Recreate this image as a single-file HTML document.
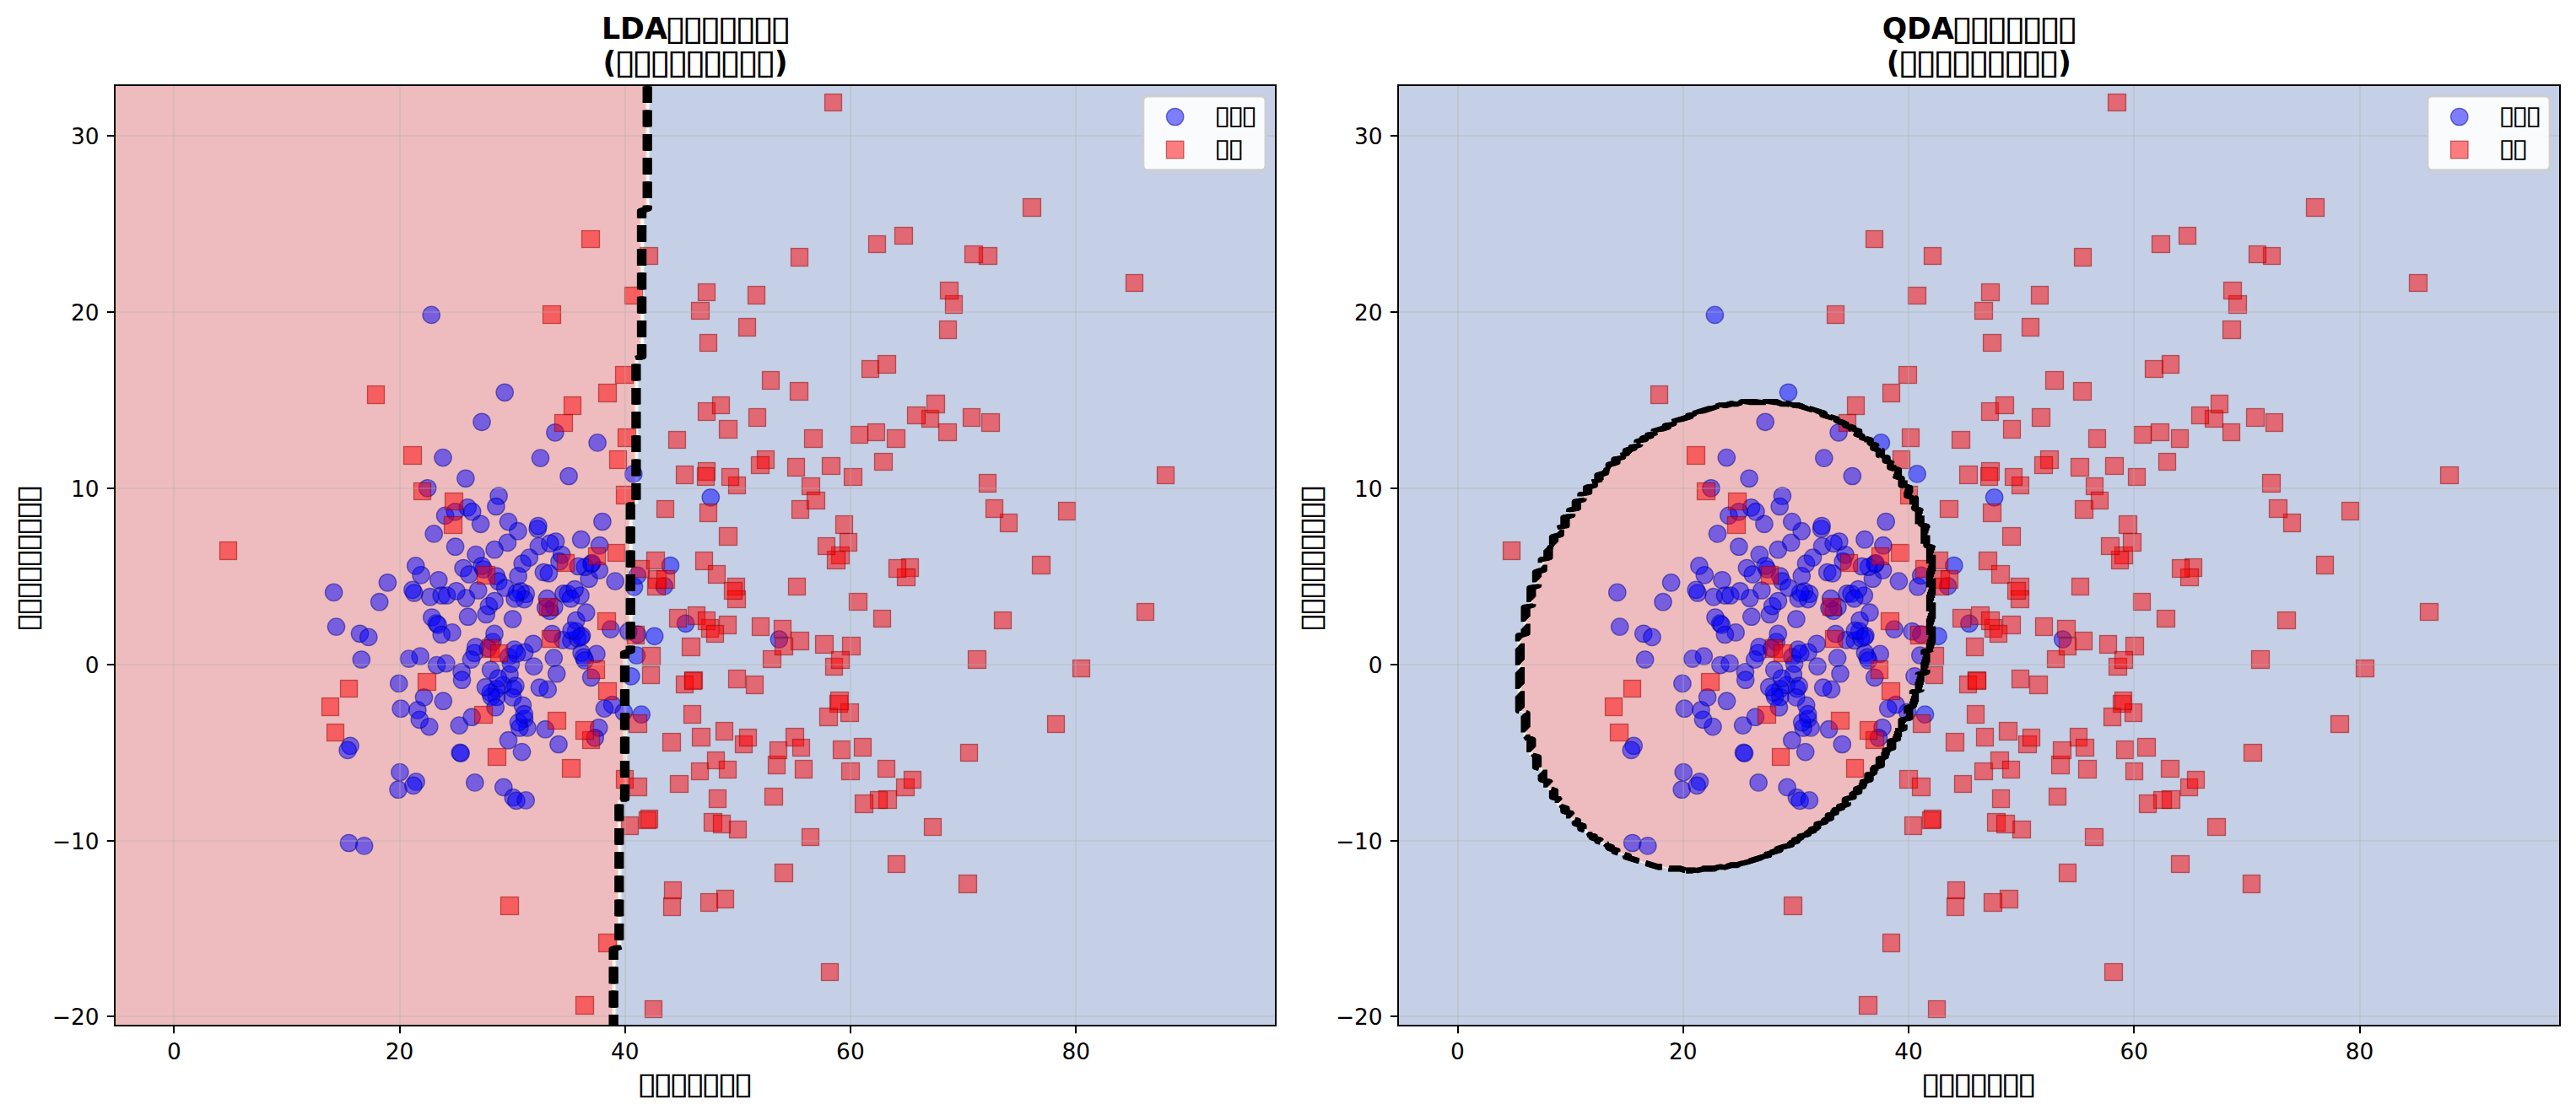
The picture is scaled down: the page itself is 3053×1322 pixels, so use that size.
<!DOCTYPE html>
<html lang="zh"><head><meta charset="utf-8"><title>LDA / QDA</title>
<style>html,body{margin:0;padding:0;background:#fff}svg{display:block}text{font-family:"DejaVu Sans","Liberation Sans",sans-serif;fill:#000}.b{font-weight:bold}</style></head><body>
<svg width="3053" height="1322" viewBox="0 0 3053 1322">
<rect width="3053" height="1322" fill="#fff"/>
<clipPath id="c0"><rect x="136.3" y="101.3" width="1376.1" height="1115.1"/></clipPath>
<g clip-path="url(#c0)">
<path d="M143 1217 725.2 1217 725.2 1125.1 731.8 1123 731.8 949.6 738.5 947.5 738.5 774.1 745.2 772 745.2 598.6 751.9 596.5 751.9 425.2 758.6 423.1 758.6 249.7 765.2 247.6 765.2 101.4 136.3 101.4 136.3 1217Z" fill="#c82227" fill-opacity=".3" fill-rule="evenodd"/>
<path d="M726.2 1215 726.2 1125.1 732.8 1123 732.8 949.6 739.5 947.5 739.5 774.1 746.2 772 746.2 598.6 752.9 596.5 752.9 425.2 759.6 423.1 759.6 249.7 766.2 247.6 766.2 101.4 765.2 101.4 765.2 247.6 758.6 249.7 758.6 423.1 751.9 425.2 751.9 596.5 745.2 598.6 745.2 772 738.5 774.1 738.5 947.5 731.8 949.6 731.8 1123 725.2 1125.1 725.2 1217 726.2 1217Z" fill="#f57547" fill-opacity=".3" fill-rule="evenodd"/>
<path d="M727.2 1215 727.2 1125.1 733.8 1123 733.8 949.6 740.5 947.5 740.5 774.1 747.2 772 747.2 598.6 753.9 596.5 753.9 425.2 760.6 423.1 760.6 249.7 767.2 247.6 767.2 101.4 766.2 101.4 766.2 247.6 759.6 249.7 759.6 423.1 752.9 425.2 752.9 596.5 746.2 598.6 746.2 772 739.5 774.1 739.5 947.5 732.8 949.6 732.8 1123 726.2 1125.1 726.2 1217 727.2 1217Z" fill="#feca7c" fill-opacity=".3" fill-rule="evenodd"/>
<path d="M728.2 1215 728.2 1125.1 734.8 1123 734.8 949.6 741.5 947.5 741.5 774.1 748.2 772 748.2 598.6 754.9 596.5 754.9 425.2 761.6 423.1 761.6 249.7 768.2 247.6 768.2 101.4 767.2 101.4 767.2 247.6 760.6 249.7 760.6 423.1 753.9 425.2 753.9 596.5 747.2 598.6 747.2 772 740.5 774.1 740.5 947.5 733.8 949.6 733.8 1123 727.2 1125.1 727.2 1217 728.2 1217Z" fill="#feffc0" fill-opacity=".3" fill-rule="evenodd"/>
<path d="M729.2 1215 729.2 1125.1 735.8 1123 735.8 949.6 742.5 947.5 742.5 774.1 749.2 772 749.2 598.6 755.9 596.5 755.9 425.2 762.6 423.1 762.6 249.7 769.2 247.6 769.2 101.4 768.2 101.4 768.2 247.6 761.6 249.7 761.6 423.1 754.9 425.2 754.9 596.5 748.2 598.6 748.2 772 741.5 774.1 741.5 947.5 734.8 949.6 734.8 1123 728.2 1125.1 728.2 1217 729.2 1217Z" fill="#c9e8f2" fill-opacity=".3" fill-rule="evenodd"/>
<path d="M730.2 1215 730.2 1125.1 736.8 1123 736.8 949.6 743.5 947.5 743.5 774.1 750.2 772 750.2 598.6 756.9 596.5 756.9 425.2 763.6 423.1 763.6 249.7 770.2 247.6 770.2 101.4 769.2 101.4 769.2 247.6 762.6 249.7 762.6 423.1 755.9 425.2 755.9 596.5 749.2 598.6 749.2 772 742.5 774.1 742.5 947.5 735.8 949.6 735.8 1123 729.2 1125.1 729.2 1217 730.2 1217Z" fill="#7ab2d4" fill-opacity=".3" fill-rule="evenodd"/>
<path d="M730.8 1217 1512.4 1217 1512.4 101.4 770.2 101.4 770.2 247.6 763.6 249.7 763.6 423.1 756.9 425.2 756.9 596.5 750.2 598.6 750.2 772 743.5 774.1 743.5 947.5 736.8 949.6 736.8 1123 730.2 1125.1 730.2 1217Z" fill="#3f62ab" fill-opacity=".3" fill-rule="evenodd"/>
<g fill="#00f" fill-opacity=".5" stroke="#00008b" stroke-opacity=".5" stroke-width="1.33"><circle cx="562.3" cy="774.3" r="10.2"/><circle cx="527.6" cy="611.4" r="10.2"/><circle cx="632" cy="763.3" r="10.2"/><circle cx="449.7" cy="713.7" r="10.2"/><circle cx="644.4" cy="678.5" r="10.2"/><circle cx="656.3" cy="780.1" r="10.2"/><circle cx="608.2" cy="945.6" r="10.2"/><circle cx="775.7" cy="754.3" r="10.2"/><circle cx="698.1" cy="686.2" r="10.2"/><circle cx="709.7" cy="862.8" r="10.2"/><circle cx="472.7" cy="810.4" r="10.2"/><circle cx="618.5" cy="891.6" r="10.2"/><circle cx="656.8" cy="719.8" r="10.2"/><circle cx="710.3" cy="676.1" r="10.2"/><circle cx="667" cy="758.8" r="10.2"/><circle cx="640.5" cy="543.1" r="10.2"/><circle cx="621.5" cy="852.4" r="10.2"/><circle cx="545.2" cy="892.4" r="10.2"/><circle cx="611.9" cy="949.4" r="10.2"/><circle cx="729.1" cy="689.1" r="10.2"/><circle cx="535.9" cy="749.9" r="10.2"/><circle cx="621.7" cy="773.4" r="10.2"/><circle cx="754.5" cy="777.1" r="10.2"/><circle cx="637.2" cy="627" r="10.2"/><circle cx="596.8" cy="933.4" r="10.2"/><circle cx="581.6" cy="794.2" r="10.2"/><circle cx="663" cy="665.7" r="10.2"/><circle cx="499" cy="681.8" r="10.2"/><circle cx="689.6" cy="753.8" r="10.2"/><circle cx="564" cy="657.6" r="10.2"/><circle cx="654.3" cy="751.5" r="10.2"/><circle cx="725.6" cy="835.5" r="10.2"/><circle cx="514.2" cy="632.9" r="10.2"/><circle cx="601.5" cy="643.4" r="10.2"/><circle cx="581.3" cy="821.4" r="10.2"/><circle cx="554.2" cy="601.8" r="10.2"/><circle cx="591.1" cy="588" r="10.2"/><circle cx="842.3" cy="589.8" r="10.2"/><circle cx="602.7" cy="778.9" r="10.2"/><circle cx="623.2" cy="948.9" r="10.2"/><circle cx="623.3" cy="704.2" r="10.2"/><circle cx="475.1" cy="840.2" r="10.2"/><circle cx="689.1" cy="774" r="10.2"/><circle cx="517.3" cy="739.1" r="10.2"/><circle cx="650.4" cy="679.8" r="10.2"/><circle cx="586.1" cy="651.7" r="10.2"/><circle cx="677" cy="759.5" r="10.2"/><circle cx="662" cy="882.5" r="10.2"/><circle cx="576.2" cy="728.5" r="10.2"/><circle cx="609.6" cy="770.1" r="10.2"/><circle cx="744.9" cy="748.7" r="10.2"/><circle cx="649.2" cy="817.4" r="10.2"/><circle cx="617.2" cy="701.2" r="10.2"/><circle cx="428.3" cy="782" r="10.2"/><circle cx="583.9" cy="761.1" r="10.2"/><circle cx="787.2" cy="694.9" r="10.2"/><circle cx="571" cy="500.3" r="10.2"/><circle cx="621.4" cy="710.6" r="10.2"/><circle cx="624.9" cy="862.9" r="10.2"/><circle cx="490.8" cy="703" r="10.2"/><circle cx="544.3" cy="860.1" r="10.2"/><circle cx="493.1" cy="926.9" r="10.2"/><circle cx="525" cy="542.6" r="10.2"/><circle cx="706.9" cy="775.4" r="10.2"/><circle cx="604" cy="799.8" r="10.2"/><circle cx="751.5" cy="695.7" r="10.2"/><circle cx="700.8" cy="668.8" r="10.2"/><circle cx="674.1" cy="564.5" r="10.2"/><circle cx="684.5" cy="756.7" r="10.2"/><circle cx="546.2" cy="893.1" r="10.2"/><circle cx="569.6" cy="621.3" r="10.2"/><circle cx="755.4" cy="682.4" r="10.2"/><circle cx="573.1" cy="675" r="10.2"/><circle cx="739.3" cy="844.3" r="10.2"/><circle cx="554.6" cy="731.2" r="10.2"/><circle cx="579.4" cy="718.6" r="10.2"/><circle cx="668" cy="703.8" r="10.2"/><circle cx="588.5" cy="826.5" r="10.2"/><circle cx="426.5" cy="751.3" r="10.2"/><circle cx="710.6" cy="646.7" r="10.2"/><circle cx="688.7" cy="639.7" r="10.2"/><circle cx="508.8" cy="861.6" r="10.2"/><circle cx="511.8" cy="732" r="10.2"/><circle cx="506.7" cy="578.8" r="10.2"/><circle cx="639.5" cy="815.2" r="10.2"/><circle cx="700.6" cy="803.3" r="10.2"/><circle cx="610.1" cy="709.9" r="10.2"/><circle cx="571" cy="671" r="10.2"/><circle cx="587.9" cy="600.5" r="10.2"/><circle cx="598.2" cy="465.3" r="10.2"/><circle cx="559.2" cy="850.2" r="10.2"/><circle cx="701.5" cy="667.6" r="10.2"/><circle cx="619.2" cy="668.2" r="10.2"/><circle cx="563.7" cy="767" r="10.2"/><circle cx="705.2" cy="874.8" r="10.2"/><circle cx="638.4" cy="647.6" r="10.2"/><circle cx="602.5" cy="877.7" r="10.2"/><circle cx="586.1" cy="712.5" r="10.2"/><circle cx="688" cy="706" r="10.2"/><circle cx="615.8" cy="863" r="10.2"/><circle cx="566.7" cy="700" r="10.2"/><circle cx="492.7" cy="670.9" r="10.2"/><circle cx="747.8" cy="801.8" r="10.2"/><circle cx="552.5" cy="709.2" r="10.2"/><circle cx="511.2" cy="373.4" r="10.2"/><circle cx="539.6" cy="648.2" r="10.2"/><circle cx="509.7" cy="707.7" r="10.2"/><circle cx="627.3" cy="661.1" r="10.2"/><circle cx="682.5" cy="748.4" r="10.2"/><circle cx="651.6" cy="724.4" r="10.2"/><circle cx="413.5" cy="999.5" r="10.2"/><circle cx="562.8" cy="927.9" r="10.2"/><circle cx="637.9" cy="623.5" r="10.2"/><circle cx="614.5" cy="856.6" r="10.2"/><circle cx="665.7" cy="657.8" r="10.2"/><circle cx="672.9" cy="704" r="10.2"/><circle cx="610.9" cy="813.2" r="10.2"/><circle cx="398.5" cy="743.1" r="10.2"/><circle cx="794.5" cy="670.5" r="10.2"/><circle cx="658.6" cy="642" r="10.2"/><circle cx="682.8" cy="735.5" r="10.2"/><circle cx="549.1" cy="673.5" r="10.2"/><circle cx="723.7" cy="746.1" r="10.2"/><circle cx="659.7" cy="798.7" r="10.2"/><circle cx="436.8" cy="755.4" r="10.2"/><circle cx="713.9" cy="618.5" r="10.2"/><circle cx="395.6" cy="702.4" r="10.2"/><circle cx="755.4" cy="752.2" r="10.2"/><circle cx="497.3" cy="853.3" r="10.2"/><circle cx="556" cy="681" r="10.2"/><circle cx="694.7" cy="726.2" r="10.2"/><circle cx="923.4" cy="758" r="10.2"/><circle cx="646.3" cy="864.7" r="10.2"/><circle cx="472" cy="936.2" r="10.2"/><circle cx="646.7" cy="720.8" r="10.2"/><circle cx="489.9" cy="931.4" r="10.2"/><circle cx="498.1" cy="778.1" r="10.2"/><circle cx="693.3" cy="672.2" r="10.2"/><circle cx="595.9" cy="812.3" r="10.2"/><circle cx="605.4" cy="787.1" r="10.2"/><circle cx="588.3" cy="683" r="10.2"/><circle cx="473.9" cy="915.6" r="10.2"/><circle cx="431.6" cy="1002.9" r="10.2"/><circle cx="614.1" cy="682.9" r="10.2"/><circle cx="588.5" cy="816.9" r="10.2"/><circle cx="632.7" cy="790.1" r="10.2"/><circle cx="651.8" cy="644.3" r="10.2"/><circle cx="582.3" cy="826.1" r="10.2"/><circle cx="519.1" cy="740.8" r="10.2"/><circle cx="523.2" cy="706" r="10.2"/><circle cx="691.7" cy="779.3" r="10.2"/><circle cx="529.6" cy="706" r="10.2"/><circle cx="607.6" cy="734" r="10.2"/><circle cx="494.8" cy="841.9" r="10.2"/><circle cx="558.4" cy="782.1" r="10.2"/><circle cx="613.9" cy="629.7" r="10.2"/><circle cx="519.8" cy="687.8" r="10.2"/><circle cx="484.6" cy="781.1" r="10.2"/><circle cx="547.1" cy="796.8" r="10.2"/><circle cx="578.4" cy="768.6" r="10.2"/><circle cx="590.7" cy="689.2" r="10.2"/><circle cx="657.9" cy="512.8" r="10.2"/><circle cx="716.4" cy="840.1" r="10.2"/><circle cx="488.9" cy="699.4" r="10.2"/><circle cx="540.9" cy="700.8" r="10.2"/><circle cx="619.4" cy="836.3" r="10.2"/><circle cx="608.4" cy="816.6" r="10.2"/><circle cx="517.6" cy="788.6" r="10.2"/><circle cx="688.4" cy="755.4" r="10.2"/><circle cx="575.5" cy="814.7" r="10.2"/><circle cx="681.1" cy="698.7" r="10.2"/><circle cx="590.5" cy="804.3" r="10.2"/><circle cx="648.4" cy="709.7" r="10.2"/><circle cx="760.2" cy="847.1" r="10.2"/><circle cx="677.1" cy="747.6" r="10.2"/><circle cx="559.7" cy="606.7" r="10.2"/><circle cx="528.8" cy="786.6" r="10.2"/><circle cx="621.3" cy="846.7" r="10.2"/><circle cx="612.5" cy="774.9" r="10.2"/><circle cx="587.2" cy="838.7" r="10.2"/><circle cx="539.5" cy="606.8" r="10.2"/><circle cx="612.4" cy="702.9" r="10.2"/><circle cx="547.5" cy="806.2" r="10.2"/><circle cx="586" cy="751.4" r="10.2"/><circle cx="607.6" cy="826.9" r="10.2"/><circle cx="598.7" cy="697" r="10.2"/><circle cx="459.4" cy="690.8" r="10.2"/><circle cx="415" cy="884.3" r="10.2"/><circle cx="523.2" cy="752.5" r="10.2"/><circle cx="412.1" cy="889.4" r="10.2"/><circle cx="693.2" cy="783" r="10.2"/><circle cx="812.6" cy="739.3" r="10.2"/><circle cx="676.4" cy="709.8" r="10.2"/><circle cx="551.9" cy="567.3" r="10.2"/><circle cx="525.3" cy="831.2" r="10.2"/><circle cx="685.2" cy="671.5" r="10.2"/><circle cx="708.1" cy="524.9" r="10.2"/><circle cx="502.5" cy="826.8" r="10.2"/><circle cx="750.8" cy="561.9" r="10.2"/><circle cx="602.5" cy="618.6" r="10.2"/></g>
<g fill="#f00" fill-opacity=".5" stroke="#8b0000" stroke-opacity=".5" stroke-width="1.33"><rect x="1178.5" y="725.5" width="20" height="20"/><rect x="862.5" y="685.5" width="20" height="20"/><rect x="933.5" y="543.5" width="20" height="21"/><rect x="1068.5" y="662.5" width="20" height="21"/><rect x="829.5" y="597.5" width="20" height="21"/><rect x="759.5" y="960.5" width="20" height="21"/><rect x="1120.5" y="350.5" width="20" height="21"/><rect x="820.5" y="863.5" width="21" height="21"/><rect x="571.5" y="758.5" width="20" height="21"/><rect x="642.5" y="747.5" width="20" height="20"/><rect x="435.5" y="457.5" width="20" height="21"/><rect x="887.5" y="484.5" width="20" height="21"/><rect x="709.5" y="455.5" width="21" height="21"/><rect x="1028.5" y="502.5" width="20" height="20"/><rect x="709.5" y="1107.5" width="21" height="21"/><rect x="1136.5" y="1037.5" width="21" height="21"/><rect x="897.5" y="534.5" width="20" height="21"/><rect x="581.5" y="764.5" width="20" height="20"/><rect x="593.5" y="1063.5" width="21" height="21"/><rect x="1185.5" y="609.5" width="20" height="21"/><rect x="793.5" y="722.5" width="20" height="21"/><rect x="1254.5" y="595.5" width="20" height="21"/><rect x="1092.5" y="486.5" width="20" height="20"/><rect x="819.5" y="904.5" width="20" height="20"/><rect x="987.5" y="878.5" width="20" height="21"/><rect x="852.5" y="498.5" width="21" height="21"/><rect x="1036.5" y="537.5" width="21" height="20"/><rect x="983.5" y="824.5" width="21" height="20"/><rect x="910.5" y="896.5" width="20" height="21"/><rect x="997.5" y="904.5" width="21" height="20"/><rect x="495.5" y="798.5" width="21" height="20"/><rect x="990.5" y="611.5" width="20" height="21"/><rect x="891.5" y="732.5" width="20" height="21"/><rect x="730.5" y="576.5" width="21" height="21"/><rect x="978.5" y="780.5" width="20" height="20"/><rect x="973.5" y="1142.5" width="20" height="20"/><rect x="1114.5" y="334.5" width="21" height="20"/><rect x="562.5" y="837.5" width="21" height="20"/><rect x="748.5" y="664.5" width="21" height="20"/><rect x="260.5" y="642.5" width="20" height="21"/><rect x="912.5" y="879.5" width="20" height="20"/><rect x="1160.5" y="562.5" width="20" height="21"/><rect x="1041.5" y="937.5" width="21" height="21"/><rect x="1012.5" y="875.5" width="20" height="21"/><rect x="526.5" y="612.5" width="21" height="20"/><rect x="829.5" y="396.5" width="20" height="20"/><rect x="871.5" y="872.5" width="20" height="20"/><rect x="565.5" y="671.5" width="21" height="21"/><rect x="1063.5" y="674.5" width="21" height="20"/><rect x="1062.5" y="923.5" width="21" height="20"/><rect x="643.5" y="362.5" width="21" height="21"/><rect x="1112.5" y="502.5" width="21" height="20"/><rect x="998.5" y="755.5" width="21" height="21"/><rect x="996.5" y="834.5" width="21" height="21"/><rect x="876.5" y="864.5" width="20" height="20"/><rect x="815.5" y="719.5" width="20" height="21"/><rect x="931.5" y="863.5" width="21" height="21"/><rect x="953.5" y="509.5" width="21" height="21"/><rect x="794.5" y="919.5" width="21" height="20"/><rect x="827.5" y="548.5" width="20" height="21"/><rect x="1163.5" y="490.5" width="21" height="21"/><rect x="974.5" y="542.5" width="21" height="20"/><rect x="1052.5" y="1014.5" width="20" height="20"/><rect x="1168.5" y="592.5" width="20" height="21"/><rect x="838.5" y="891.5" width="20" height="20"/><rect x="786.5" y="1064.5" width="20" height="21"/><rect x="906.5" y="934.5" width="21" height="20"/><rect x="985.5" y="648.5" width="21" height="20"/><rect x="1035.5" y="723.5" width="20" height="20"/><rect x="690.5" y="867.5" width="20" height="20"/><rect x="736.5" y="968.5" width="20" height="21"/><rect x="729.5" y="434.5" width="21" height="20"/><rect x="1347.5" y="715.5" width="20" height="20"/><rect x="761.5" y="767.5" width="21" height="21"/><rect x="810.5" y="836.5" width="20" height="21"/><rect x="852.5" y="730.5" width="20" height="21"/><rect x="639.5" y="709.5" width="21" height="20"/><rect x="811.5" y="796.5" width="21" height="20"/><rect x="966.5" y="753.5" width="21" height="21"/><rect x="801.5" y="801.5" width="20" height="20"/><rect x="758.5" y="293.5" width="21" height="20"/><rect x="709.5" y="809.5" width="21" height="20"/><rect x="649.5" y="844.5" width="21" height="20"/><rect x="1271.5" y="782.5" width="20" height="20"/><rect x="1223.5" y="659.5" width="21" height="21"/><rect x="819.5" y="358.5" width="21" height="20"/><rect x="808.5" y="756.5" width="21" height="21"/><rect x="764.5" y="1186.5" width="20" height="20"/><rect x="801.5" y="552.5" width="20" height="21"/><rect x="1113.5" y="380.5" width="20" height="21"/><rect x="811.5" y="797.5" width="20" height="20"/><rect x="689.5" y="273.5" width="21" height="20"/><rect x="824.5" y="654.5" width="20" height="21"/><rect x="971.5" y="839.5" width="21" height="21"/><rect x="730.5" y="913.5" width="20" height="21"/><rect x="863.5" y="794.5" width="20" height="21"/><rect x="766.5" y="654.5" width="21" height="20"/><rect x="682.5" y="855.5" width="21" height="21"/><rect x="939.5" y="876.5" width="20" height="20"/><rect x="938.5" y="593.5" width="20" height="21"/><rect x="745.5" y="922.5" width="21" height="21"/><rect x="668.5" y="470.5" width="20" height="21"/><rect x="740.5" y="340.5" width="21" height="20"/><rect x="1040.5" y="901.5" width="20" height="20"/><rect x="1160.5" y="293.5" width="21" height="20"/><rect x="743.5" y="742.5" width="20" height="21"/><rect x="840.5" y="936.5" width="20" height="21"/><rect x="403.5" y="806.5" width="20" height="20"/><rect x="826.5" y="554.5" width="20" height="21"/><rect x="768.5" y="676.5" width="21" height="21"/><rect x="1000.5" y="555.5" width="21" height="20"/><rect x="478.5" y="529.5" width="21" height="21"/><rect x="578.5" y="887.5" width="21" height="20"/><rect x="1053.5" y="663.5" width="20" height="21"/><rect x="827.5" y="477.5" width="20" height="21"/><rect x="1143.5" y="291.5" width="21" height="20"/><rect x="904.5" y="771.5" width="21" height="20"/><rect x="1095.5" y="970.5" width="20" height="20"/><rect x="708.5" y="726.5" width="21" height="20"/><rect x="1138.5" y="882.5" width="20" height="20"/><rect x="886.5" y="339.5" width="20" height="21"/><rect x="950.5" y="982.5" width="20" height="20"/><rect x="917.5" y="735.5" width="20" height="20"/><rect x="1371.5" y="553.5" width="20" height="20"/><rect x="890.5" y="541.5" width="21" height="20"/><rect x="490.5" y="572.5" width="20" height="20"/><rect x="942.5" y="901.5" width="20" height="21"/><rect x="381.5" y="827.5" width="20" height="21"/><rect x="862.5" y="700.5" width="21" height="20"/><rect x="831.5" y="734.5" width="20" height="21"/><rect x="985.5" y="772.5" width="21" height="20"/><rect x="884.5" y="801.5" width="20" height="21"/><rect x="995.5" y="632.5" width="20" height="21"/><rect x="875.5" y="377.5" width="20" height="21"/><rect x="1334.5" y="325.5" width="20" height="20"/><rect x="682.5" y="1181.5" width="21" height="21"/><rect x="937.5" y="749.5" width="21" height="21"/><rect x="1147.5" y="771.5" width="21" height="21"/><rect x="1029.5" y="279.5" width="20" height="20"/><rect x="657.5" y="491.5" width="21" height="20"/><rect x="757.5" y="962.5" width="20" height="20"/><rect x="950.5" y="566.5" width="21" height="20"/><rect x="1075.5" y="482.5" width="21" height="20"/><rect x="918.5" y="756.5" width="21" height="20"/><rect x="720.5" y="645.5" width="20" height="20"/><rect x="903.5" y="440.5" width="20" height="21"/><rect x="1051.5" y="509.5" width="21" height="21"/><rect x="761.5" y="790.5" width="20" height="20"/><rect x="834.5" y="964.5" width="21" height="21"/><rect x="696.5" y="783.5" width="20" height="21"/><rect x="936.5" y="453.5" width="21" height="21"/><rect x="1031.5" y="938.5" width="20" height="20"/><rect x="1141.5" y="484.5" width="20" height="21"/><rect x="1060.5" y="269.5" width="21" height="20"/><rect x="1212.5" y="235.5" width="21" height="21"/><rect x="827.5" y="725.5" width="20" height="21"/><rect x="956.5" y="583.5" width="21" height="20"/><rect x="844.5" y="470.5" width="20" height="20"/><rect x="839.5" y="670.5" width="20" height="21"/><rect x="934.5" y="685.5" width="20" height="20"/><rect x="849.5" y="1055.5" width="20" height="21"/><rect x="1098.5" y="468.5" width="21" height="21"/><rect x="837.5" y="741.5" width="20" height="20"/><rect x="852.5" y="625.5" width="21" height="21"/><rect x="984.5" y="820.5" width="21" height="21"/><rect x="852.5" y="902.5" width="20" height="20"/><rect x="830.5" y="1059.5" width="20" height="21"/><rect x="660.5" y="657.5" width="20" height="20"/><rect x="792.5" y="511.5" width="20" height="20"/><rect x="527.5" y="584.5" width="21" height="20"/><rect x="1241.5" y="848.5" width="20" height="20"/><rect x="980.5" y="653.5" width="21" height="21"/><rect x="785.5" y="869.5" width="21" height="21"/><rect x="848.5" y="856.5" width="20" height="21"/><rect x="1013.5" y="942.5" width="21" height="21"/><rect x="1071.5" y="914.5" width="20" height="20"/><rect x="1021.5" y="427.5" width="20" height="20"/><rect x="977.5" y="111.5" width="20" height="20"/><rect x="767.5" y="685.5" width="21" height="20"/><rect x="1008.5" y="505.5" width="20" height="20"/><rect x="969.5" y="637.5" width="20" height="20"/><rect x="387.5" y="858.5" width="20" height="20"/><rect x="666.5" y="900.5" width="21" height="21"/><rect x="827.5" y="336.5" width="20" height="20"/><rect x="937.5" y="294.5" width="20" height="21"/><rect x="745.5" y="847.5" width="21" height="21"/><rect x="722.5" y="534.5" width="20" height="21"/><rect x="787.5" y="1045.5" width="20" height="20"/><rect x="1006.5" y="703.5" width="21" height="20"/><rect x="863.5" y="565.5" width="20" height="20"/><rect x="864.5" y="973.5" width="20" height="20"/><rect x="778.5" y="593.5" width="20" height="20"/><rect x="732.5" y="508.5" width="21" height="21"/><rect x="697.5" y="649.5" width="20" height="20"/><rect x="918.5" y="1024.5" width="21" height="21"/><rect x="778.5" y="676.5" width="21" height="21"/><rect x="845.5" y="966.5" width="20" height="21"/><rect x="1040.5" y="421.5" width="21" height="21"/><rect x="855.5" y="555.5" width="20" height="20"/><rect x="858.5" y="690.5" width="21" height="20"/></g>
<g stroke="#b0b0b0" stroke-opacity=".3" stroke-width="2.0"><path d="M206 101.3V1216.4"/><path d="M474 101.3V1216.4"/><path d="M741 101.3V1216.4"/><path d="M1008 101.3V1216.4"/><path d="M1275 101.3V1216.4"/><path d="M136.3 1205H1512.4"/><path d="M136.3 997H1512.4"/><path d="M136.3 788H1512.4"/><path d="M136.3 579H1512.4"/><path d="M136.3 370H1512.4"/><path d="M136.3 161H1512.4"/></g>
<g fill="none" stroke="#000" stroke-width="5.3" stroke-dasharray="19.72 8.53" stroke-linejoin="round" stroke-dashoffset="-1"><path d="M764.2 101.4 764.2 247.6 757.5 249.7 757.5 423.1 750.9 425.2 750.9 596.5 744.2 598.6 744.2 772 737.5 774.1 737.5 947.5 730.8 949.6 730.8 1123 724.1 1125.1 724.1 1217"/><path d="M765.2 101.4 765.2 247.6 758.6 249.7 758.6 423.1 751.9 425.2 751.9 596.5 745.2 598.6 745.2 772 738.5 774.1 738.5 947.5 731.8 949.6 731.8 1123 725.2 1125.1 725.2 1217"/><path d="M766.2 101.4 766.2 247.6 759.6 249.7 759.6 423.1 752.9 425.2 752.9 596.5 746.2 598.6 746.2 772 739.5 774.1 739.5 947.5 732.8 949.6 732.8 1123 726.2 1125.1 726.2 1217"/><path d="M767.2 101.4 767.2 247.6 760.6 249.7 760.6 423.1 753.9 425.2 753.9 596.5 747.2 598.6 747.2 772 740.5 774.1 740.5 947.5 733.8 949.6 733.8 1123 727.2 1125.1 727.2 1217"/><path d="M768.2 101.4 768.2 247.6 761.6 249.7 761.6 423.1 754.9 425.2 754.9 596.5 748.2 598.6 748.2 772 741.5 774.1 741.5 947.5 734.8 949.6 734.8 1123 728.2 1125.1 728.2 1217"/><path d="M769.2 101.4 769.2 247.6 762.6 249.7 762.6 423.1 755.9 425.2 755.9 596.5 749.2 598.6 749.2 772 742.5 774.1 742.5 947.5 735.8 949.6 735.8 1123 729.2 1125.1 729.2 1217"/><path d="M770.2 101.4 770.2 247.6 763.6 249.7 763.6 423.1 756.9 425.2 756.9 596.5 750.2 598.6 750.2 772 743.5 774.1 743.5 947.5 736.8 949.6 736.8 1123 730.2 1125.1 730.2 1217"/></g>
</g>
<rect x="136" y="101" width="1376" height="1115" fill="none" stroke="#000" stroke-width="2"/>
<g stroke="#000" stroke-width="2.0"><path d="M206 1216v9.2"/><path d="M474 1216v9.2"/><path d="M741 1216v9.2"/><path d="M1008 1216v9.2"/><path d="M1275 1216v9.2"/><path d="M136 1205h-9.2"/><path d="M136 997h-9.2"/><path d="M136 788h-9.2"/><path d="M136 579h-9.2"/><path d="M136 370h-9.2"/><path d="M136 161h-9.2"/></g>
<g font-size="26.39" text-anchor="middle"><text x="206.3" y="1255.6">0</text><text x="473.5" y="1255.6">20</text><text x="740.7" y="1255.6">40</text><text x="1007.9" y="1255.6">60</text><text x="1275.2" y="1255.6">80</text></g>
<g font-size="26.39" text-anchor="end"><text x="117.5" y="1215.4">−20</text><text x="117.5" y="1006.5">−10</text><text x="117.5" y="797.7">0</text><text x="117.5" y="588.9">10</text><text x="117.5" y="380.1">20</text><text x="117.5" y="171.3">30</text></g>
<text class="b" font-size="34.7" x="712.99" y="45.8">LDA</text><text class="b" transform="translate(787.42 47.04) scale(1.3563 1.1547)" font-size="34.7" x="0.00 15.35 30.70 46.05 61.40 76.75 92.10" y="0">▯▯▯▯▯▯▯</text><text class="b" font-size="34.7" x="714.40" y="85.6">(</text><text class="b" transform="translate(727.71 86.84) scale(1.3563 1.1547)" font-size="34.7" x="0.00 15.35 30.70 46.05 61.40 76.75 92.10 107.45 122.81" y="0">▯▯▯▯▯▯▯▯▯</text><text class="b" font-size="34.7" x="917.64" y="85.6">)</text>
<text transform="translate(755.05 1297.23) scale(1.3563 1.1547)" font-size="31.7" x="0.00 14.02 28.05 42.07 56.09 70.12 84.14" y="0">▯▯▯▯▯▯▯</text>
<g transform="translate(44.10 747.44) rotate(-90)"><text transform="translate(-2.33 1.13) scale(1.3563 1.1547)" font-size="31.7" x="0.00 14.02 28.05 42.07 56.09 70.12 84.14 98.16 112.19" y="0">▯▯▯▯▯▯▯▯▯</text></g>
<rect x="1355.00" y="114.09" width="144.81" height="87.5" rx="5.3" fill="#fff" fill-opacity=".9" stroke="#ccc" stroke-opacity=".9" stroke-width="2.64"/><circle cx="1392.65" cy="138.50" r="10.2" fill="#00f" fill-opacity=".5" stroke="#00008b" stroke-opacity=".5" stroke-width="1.33"/><rect x="1382.40" y="167.25" width="20.5" height="20.5" fill="#f00" fill-opacity=".5" stroke="#8b0000" stroke-opacity=".5" stroke-width="1.33"/><text transform="translate(1438.81 147.14) scale(1.3563 1.1547)" font-size="26.39" x="0.00 11.67 23.35" y="0">▯▯▯</text><text transform="translate(1438.81 186.14) scale(1.3563 1.1547)" font-size="26.39" x="0.00 11.67" y="0">▯▯</text>
<clipPath id="c1"><rect x="1657.45" y="101.3" width="1376.5" height="1115.1"/></clipPath>
<g clip-path="url(#c1)">
<path d="M1998.2 1031.4 2011.6 1031.4 2018.3 1029.3 2031.6 1029.3 2038.3 1027.2 2045 1027.2 2051.7 1025.2 2058.4 1025.2 2092.8 1014.4 2092.8 1012.3 2106.1 1008.1 2106.1 1006 2119.5 1001.9 2119.5 999.8 2126.2 997.7 2126.2 995.6 2132.9 993.5 2132.9 991.4 2139.5 989.3 2139.5 987.2 2146.2 985.1 2146.2 983.1 2152.9 981 2152.9 976.8 2159.6 974.7 2159.6 972.6 2166.3 970.5 2166.3 966.3 2173 964.3 2173 960.1 2179.6 958 2179.6 955.9 2186.3 953.8 2186.3 947.5 2193 945.4 2193 941.3 2199.7 939.2 2199.7 935 2206.4 932.9 2206.4 926.6 2213 924.6 2213 918.3 2219.7 916.2 2219.7 909.9 2226.4 907.8 2226.4 899.5 2233.1 897.4 2233.1 889 2239.8 887 2239.8 878.6 2246.5 876.5 2246.5 866.1 2253.1 864 2253.1 853.5 2259.8 851.4 2259.8 838.9 2266.5 836.8 2266.5 820.1 2273.2 818 2273.2 799.2 2279.9 797.1 2279.9 772 2286.5 770 2286.5 648.8 2279.9 646.7 2279.9 623.7 2273.2 621.6 2273.2 604.9 2266.5 602.8 2266.5 590.3 2259.8 588.2 2259.8 577.7 2253.1 575.7 2253.1 567.3 2246.5 565.2 2246.5 556.9 2239.8 554.8 2239.8 548.5 2233.1 546.4 2233.1 542.2 2226.4 540.1 2226.4 533.9 2219.7 531.8 2219.7 527.6 2213 525.5 2213 521.3 2206.4 519.2 2206.4 517.2 2199.7 515.1 2199.7 510.9 2193 508.8 2193 506.7 2186.3 504.6 2186.3 502.5 2173 498.4 2173 496.3 2159.6 492.1 2159.6 490 2131.9 481.3 2125.2 481.3 2118.5 479.2 2111.8 479.2 2105.1 477.1 2065 477.1 2058.4 479.2 2051.7 479.2 2045 481.3 2038.3 481.3 2003.9 492.1 2003.9 494.2 1983.9 500.4 1983.9 502.5 1977.2 504.6 1977.2 506.7 1963.8 510.9 1963.8 513 1957.1 515.1 1957.1 517.2 1950.4 519.2 1950.4 521.3 1943.8 523.4 1943.8 527.6 1937.1 529.7 1937.1 531.8 1930.4 533.9 1930.4 538 1923.7 540.1 1923.7 542.2 1917 544.3 1917 548.5 1910.4 550.6 1910.4 554.8 1903.7 556.9 1903.7 561 1897 563.1 1897 569.4 1890.3 571.5 1890.3 575.7 1883.6 577.7 1883.6 584 1876.9 586.1 1876.9 592.4 1870.3 594.5 1870.3 602.8 1863.6 604.9 1863.6 611.2 1856.9 613.3 1856.9 623.7 1850.2 625.8 1850.2 634.2 1843.5 636.2 1843.5 646.7 1836.9 648.8 1836.9 661.3 1830.2 663.4 1830.2 675.9 1823.5 678 1823.5 694.7 1816.8 696.8 1816.8 717.7 1810.1 719.8 1810.1 751.2 1803.4 753.2 1803.4 843.1 1810.1 845.2 1810.1 874.4 1816.8 876.5 1816.8 895.3 1823.5 897.4 1823.5 909.9 1830.2 912 1830.2 924.6 1836.9 926.6 1836.9 935 1843.5 937.1 1843.5 945.4 1850.2 947.5 1850.2 955.9 1856.9 958 1856.9 962.2 1863.6 964.3 1863.6 970.5 1870.3 972.6 1870.3 976.8 1876.9 978.9 1876.9 983.1 1883.6 985.1 1883.6 989.3 1890.3 991.4 1890.3 993.5 1897 995.6 1897 997.7 1903.7 999.8 1903.7 1001.9 1910.4 1003.9 1910.4 1006 1917 1008.1 1917 1010.2 1930.4 1014.4 1930.4 1016.5 1964.8 1027.2 1971.5 1027.2 1978.2 1029.3 1991.5 1029.3 1997.2 1031.1Z" fill="#c82227" fill-opacity=".3" fill-rule="evenodd"/>
<path d="M1998.2 1031.7 2011.6 1031.7 2018.3 1029.6 2031.6 1029.6 2038.3 1027.6 2045 1027.6 2051.7 1025.5 2058.4 1025.5 2093.8 1014.4 2093.8 1012.3 2107.1 1008.1 2107.1 1006 2120.5 1001.9 2120.5 999.8 2127.2 997.7 2127.2 995.6 2133.9 993.5 2133.9 991.4 2140.5 989.3 2140.5 987.2 2147.2 985.1 2147.2 983.1 2153.9 981 2153.9 976.8 2160.6 974.7 2160.6 972.6 2167.3 970.5 2167.3 966.3 2174 964.3 2174 960.1 2180.6 958 2180.6 955.9 2187.3 953.8 2187.3 947.5 2194 945.4 2194 941.3 2200.7 939.2 2200.7 935 2207.4 932.9 2207.4 926.6 2214 924.6 2214 918.3 2220.7 916.2 2220.7 909.9 2227.4 907.8 2227.4 899.5 2234.1 897.4 2234.1 889 2240.8 887 2240.8 878.6 2247.5 876.5 2247.5 866.1 2254.1 864 2254.1 853.5 2260.8 851.4 2260.8 838.9 2267.5 836.8 2267.5 820.1 2274.2 818 2274.2 799.2 2280.9 797.1 2280.9 772 2287.5 770 2287.5 648.8 2280.9 646.7 2280.9 623.7 2274.2 621.6 2274.2 604.9 2267.5 602.8 2267.5 590.3 2260.8 588.2 2260.8 577.7 2254.1 575.7 2254.1 567.3 2247.5 565.2 2247.5 556.9 2240.8 554.8 2240.8 548.5 2234.1 546.4 2234.1 542.2 2227.4 540.1 2227.4 533.9 2220.7 531.8 2220.7 527.6 2214 525.5 2214 521.3 2207.4 519.2 2207.4 517.2 2200.7 515.1 2200.7 510.9 2194 508.8 2194 506.7 2187.3 504.6 2187.3 502.5 2174 498.4 2174 496.3 2160.6 492.1 2160.6 490 2131.9 481 2125.2 481 2118.5 478.9 2111.8 478.9 2105.1 476.8 2065 476.8 2058.4 478.9 2051.7 478.9 2045 481 2038.3 481 2002.9 492.1 2002.9 494.2 1982.9 500.4 1982.9 502.5 1976.2 504.6 1976.2 506.7 1962.8 510.9 1962.8 513 1956.1 515.1 1956.1 517.2 1949.4 519.2 1949.4 521.3 1942.8 523.4 1942.8 527.6 1936.1 529.7 1936.1 531.8 1929.4 533.9 1929.4 538 1922.7 540.1 1922.7 542.2 1916 544.3 1916 548.5 1909.4 550.6 1909.4 554.8 1902.7 556.9 1902.7 561 1896 563.1 1896 569.4 1889.3 571.5 1889.3 575.7 1882.6 577.7 1882.6 584 1875.9 586.1 1875.9 592.4 1869.3 594.5 1869.3 602.8 1862.6 604.9 1862.6 611.2 1855.9 613.3 1855.9 623.7 1849.2 625.8 1849.2 634.2 1842.5 636.2 1842.5 646.7 1835.9 648.8 1835.9 661.3 1829.2 663.4 1829.2 675.9 1822.5 678 1822.5 694.7 1815.8 696.8 1815.8 717.7 1809.1 719.8 1809.1 751.2 1802.4 753.2 1802.4 843.1 1809.1 845.2 1809.1 874.4 1815.8 876.5 1815.8 895.3 1822.5 897.4 1822.5 909.9 1829.2 912 1829.2 924.6 1835.9 926.6 1835.9 935 1842.5 937.1 1842.5 945.4 1849.2 947.5 1849.2 955.9 1855.9 958 1855.9 962.2 1862.6 964.3 1862.6 970.5 1869.3 972.6 1869.3 976.8 1875.9 978.9 1875.9 983.1 1882.6 985.1 1882.6 989.3 1889.3 991.4 1889.3 993.5 1896 995.6 1896 997.7 1902.7 999.8 1902.7 1001.9 1909.4 1003.9 1909.4 1006 1916 1008.1 1916 1010.2 1929.4 1014.4 1929.4 1016.5 1964.8 1027.6 1971.5 1027.6 1978.2 1029.6 1991.5 1029.6 1996.2 1031.1ZM1997.2 1031.1 1991.5 1029.3 1978.2 1029.3 1971.5 1027.2 1964.8 1027.2 1930.4 1016.5 1930.4 1014.4 1917 1010.2 1917 1008.1 1910.4 1006 1910.4 1003.9 1903.7 1001.9 1903.7 999.8 1897 997.7 1897 995.6 1890.3 993.5 1890.3 991.4 1883.6 989.3 1883.6 985.1 1876.9 983.1 1876.9 978.9 1870.3 976.8 1870.3 972.6 1863.6 970.5 1863.6 964.3 1856.9 962.2 1856.9 958 1850.2 955.9 1850.2 947.5 1843.5 945.4 1843.5 937.1 1836.9 935 1836.9 926.6 1830.2 924.6 1830.2 912 1823.5 909.9 1823.5 897.4 1816.8 895.3 1816.8 876.5 1810.1 874.4 1810.1 845.2 1803.4 843.1 1803.4 753.2 1810.1 751.2 1810.1 719.8 1816.8 717.7 1816.8 696.8 1823.5 694.7 1823.5 678 1830.2 675.9 1830.2 663.4 1836.9 661.3 1836.9 648.8 1843.5 646.7 1843.5 636.2 1850.2 634.2 1850.2 625.8 1856.9 623.7 1856.9 613.3 1863.6 611.2 1863.6 604.9 1870.3 602.8 1870.3 594.5 1876.9 592.4 1876.9 586.1 1883.6 584 1883.6 577.7 1890.3 575.7 1890.3 571.5 1897 569.4 1897 563.1 1903.7 561 1903.7 556.9 1910.4 554.8 1910.4 550.6 1917 548.5 1917 544.3 1923.7 542.2 1923.7 540.1 1930.4 538 1930.4 533.9 1937.1 531.8 1937.1 529.7 1943.8 527.6 1943.8 523.4 1950.4 521.3 1950.4 519.2 1957.1 517.2 1957.1 515.1 1963.8 513 1963.8 510.9 1977.2 506.7 1977.2 504.6 1983.9 502.5 1983.9 500.4 2003.9 494.2 2003.9 492.1 2038.3 481.3 2045 481.3 2051.7 479.2 2058.4 479.2 2065 477.1 2105.1 477.1 2111.8 479.2 2118.5 479.2 2125.2 481.3 2131.9 481.3 2159.6 490 2159.6 492.1 2173 496.3 2173 498.4 2186.3 502.5 2186.3 504.6 2193 506.7 2193 508.8 2199.7 510.9 2199.7 515.1 2206.4 517.2 2206.4 519.2 2213 521.3 2213 525.5 2219.7 527.6 2219.7 531.8 2226.4 533.9 2226.4 540.1 2233.1 542.2 2233.1 546.4 2239.8 548.5 2239.8 554.8 2246.5 556.9 2246.5 565.2 2253.1 567.3 2253.1 575.7 2259.8 577.7 2259.8 588.2 2266.5 590.3 2266.5 602.8 2273.2 604.9 2273.2 621.6 2279.9 623.7 2279.9 646.7 2286.5 648.8 2286.5 770 2279.9 772 2279.9 797.1 2273.2 799.2 2273.2 818 2266.5 820.1 2266.5 836.8 2259.8 838.9 2259.8 851.4 2253.1 853.5 2253.1 864 2246.5 866.1 2246.5 876.5 2239.8 878.6 2239.8 887 2233.1 889 2233.1 897.4 2226.4 899.5 2226.4 907.8 2219.7 909.9 2219.7 916.2 2213 918.3 2213 924.6 2206.4 926.6 2206.4 932.9 2199.7 935 2199.7 939.2 2193 941.3 2193 945.4 2186.3 947.5 2186.3 953.8 2179.6 955.9 2179.6 958 2173 960.1 2173 964.3 2166.3 966.3 2166.3 970.5 2159.6 972.6 2159.6 974.7 2152.9 976.8 2152.9 981 2146.2 983.1 2146.2 985.1 2139.5 987.2 2139.5 989.3 2132.9 991.4 2132.9 993.5 2126.2 995.6 2126.2 997.7 2119.5 999.8 2119.5 1001.9 2106.1 1006 2106.1 1008.1 2092.8 1012.3 2092.8 1014.4 2058.4 1025.2 2051.7 1025.2 2045 1027.2 2038.3 1027.2 2031.6 1029.3 2018.3 1029.3 2011.6 1031.4 1998.2 1031.4Z" fill="#f57547" fill-opacity=".3" fill-rule="evenodd"/>
<path d="M1998.2 1032 2011.6 1032 2018.3 1030 2031.6 1030 2038.3 1027.9 2045 1027.9 2051.7 1025.8 2058.4 1025.8 2094.8 1014.4 2094.8 1012.3 2108.1 1008.1 2108.1 1006 2121.5 1001.9 2121.5 999.8 2128.2 997.7 2128.2 995.6 2134.9 993.5 2134.9 991.4 2141.5 989.3 2141.5 987.2 2148.2 985.1 2148.2 983.1 2154.9 981 2154.9 976.8 2161.6 974.7 2161.6 972.6 2168.3 970.5 2168.3 966.3 2175 964.3 2175 960.1 2181.6 958 2181.6 955.9 2188.3 953.8 2188.3 947.5 2195 945.4 2195 941.3 2201.7 939.2 2201.7 935 2208.4 932.9 2208.4 926.6 2215 924.6 2215 918.3 2221.7 916.2 2221.7 909.9 2228.4 907.8 2228.4 899.5 2235.1 897.4 2235.1 889 2241.8 887 2241.8 878.6 2248.5 876.5 2248.5 866.1 2255.1 864 2255.1 853.5 2261.8 851.4 2261.8 838.9 2268.5 836.8 2268.5 820.1 2275.2 818 2275.2 799.2 2281.9 797.1 2281.9 772 2288.5 770 2288.5 648.8 2281.9 646.7 2281.9 623.7 2275.2 621.6 2275.2 604.9 2268.5 602.8 2268.5 590.3 2261.8 588.2 2261.8 577.7 2255.1 575.7 2255.1 567.3 2248.5 565.2 2248.5 556.9 2241.8 554.8 2241.8 548.5 2235.1 546.4 2235.1 542.2 2228.4 540.1 2228.4 533.9 2221.7 531.8 2221.7 527.6 2215 525.5 2215 521.3 2208.4 519.2 2208.4 517.2 2201.7 515.1 2201.7 510.9 2195 508.8 2195 506.7 2188.3 504.6 2188.3 502.5 2175 498.4 2175 496.3 2161.6 492.1 2161.6 490 2131.9 480.7 2125.2 480.7 2118.5 478.6 2111.8 478.6 2105.1 476.5 2065 476.5 2058.4 478.6 2051.7 478.6 2045 480.7 2038.3 480.7 2001.9 492.1 2001.9 494.2 1981.9 500.4 1981.9 502.5 1975.2 504.6 1975.2 506.7 1961.8 510.9 1961.8 513 1955.1 515.1 1955.1 517.2 1948.4 519.2 1948.4 521.3 1941.8 523.4 1941.8 527.6 1935.1 529.7 1935.1 531.8 1928.4 533.9 1928.4 538 1921.7 540.1 1921.7 542.2 1915 544.3 1915 548.5 1908.4 550.6 1908.4 554.8 1901.7 556.9 1901.7 561 1895 563.1 1895 569.4 1888.3 571.5 1888.3 575.7 1881.6 577.7 1881.6 584 1874.9 586.1 1874.9 592.4 1868.3 594.5 1868.3 602.8 1861.6 604.9 1861.6 611.2 1854.9 613.3 1854.9 623.7 1848.2 625.8 1848.2 634.2 1841.5 636.2 1841.5 646.7 1834.9 648.8 1834.9 661.3 1828.2 663.4 1828.2 675.9 1821.5 678 1821.5 694.7 1814.8 696.8 1814.8 717.7 1808.1 719.8 1808.1 751.2 1801.4 753.2 1801.4 843.1 1808.1 845.2 1808.1 874.4 1814.8 876.5 1814.8 895.3 1821.5 897.4 1821.5 909.9 1828.2 912 1828.2 924.6 1834.9 926.6 1834.9 935 1841.5 937.1 1841.5 945.4 1848.2 947.5 1848.2 955.9 1854.9 958 1854.9 962.2 1861.6 964.3 1861.6 970.5 1868.3 972.6 1868.3 976.8 1874.9 978.9 1874.9 983.1 1881.6 985.1 1881.6 989.3 1888.3 991.4 1888.3 993.5 1895 995.6 1895 997.7 1901.7 999.8 1901.7 1001.9 1908.4 1003.9 1908.4 1006 1915 1008.1 1915 1010.2 1928.4 1014.4 1928.4 1016.5 1964.8 1027.9 1971.5 1027.9 1978.2 1030 1991.5 1030 1995.2 1031.1ZM1996.2 1031.1 1991.5 1029.6 1978.2 1029.6 1971.5 1027.6 1964.8 1027.6 1929.4 1016.5 1929.4 1014.4 1916 1010.2 1916 1008.1 1909.4 1006 1909.4 1003.9 1902.7 1001.9 1902.7 999.8 1896 997.7 1896 995.6 1889.3 993.5 1889.3 991.4 1882.6 989.3 1882.6 985.1 1875.9 983.1 1875.9 978.9 1869.3 976.8 1869.3 972.6 1862.6 970.5 1862.6 964.3 1855.9 962.2 1855.9 958 1849.2 955.9 1849.2 947.5 1842.5 945.4 1842.5 937.1 1835.9 935 1835.9 926.6 1829.2 924.6 1829.2 912 1822.5 909.9 1822.5 897.4 1815.8 895.3 1815.8 876.5 1809.1 874.4 1809.1 845.2 1802.4 843.1 1802.4 753.2 1809.1 751.2 1809.1 719.8 1815.8 717.7 1815.8 696.8 1822.5 694.7 1822.5 678 1829.2 675.9 1829.2 663.4 1835.9 661.3 1835.9 648.8 1842.5 646.7 1842.5 636.2 1849.2 634.2 1849.2 625.8 1855.9 623.7 1855.9 613.3 1862.6 611.2 1862.6 604.9 1869.3 602.8 1869.3 594.5 1875.9 592.4 1875.9 586.1 1882.6 584 1882.6 577.7 1889.3 575.7 1889.3 571.5 1896 569.4 1896 563.1 1902.7 561 1902.7 556.9 1909.4 554.8 1909.4 550.6 1916 548.5 1916 544.3 1922.7 542.2 1922.7 540.1 1929.4 538 1929.4 533.9 1936.1 531.8 1936.1 529.7 1942.8 527.6 1942.8 523.4 1949.4 521.3 1949.4 519.2 1956.1 517.2 1956.1 515.1 1962.8 513 1962.8 510.9 1976.2 506.7 1976.2 504.6 1982.9 502.5 1982.9 500.4 2002.9 494.2 2002.9 492.1 2038.3 481 2045 481 2051.7 478.9 2058.4 478.9 2065 476.8 2105.1 476.8 2111.8 478.9 2118.5 478.9 2125.2 481 2131.9 481 2160.6 490 2160.6 492.1 2174 496.3 2174 498.4 2187.3 502.5 2187.3 504.6 2194 506.7 2194 508.8 2200.7 510.9 2200.7 515.1 2207.4 517.2 2207.4 519.2 2214 521.3 2214 525.5 2220.7 527.6 2220.7 531.8 2227.4 533.9 2227.4 540.1 2234.1 542.2 2234.1 546.4 2240.8 548.5 2240.8 554.8 2247.5 556.9 2247.5 565.2 2254.1 567.3 2254.1 575.7 2260.8 577.7 2260.8 588.2 2267.5 590.3 2267.5 602.8 2274.2 604.9 2274.2 621.6 2280.9 623.7 2280.9 646.7 2287.5 648.8 2287.5 770 2280.9 772 2280.9 797.1 2274.2 799.2 2274.2 818 2267.5 820.1 2267.5 836.8 2260.8 838.9 2260.8 851.4 2254.1 853.5 2254.1 864 2247.5 866.1 2247.5 876.5 2240.8 878.6 2240.8 887 2234.1 889 2234.1 897.4 2227.4 899.5 2227.4 907.8 2220.7 909.9 2220.7 916.2 2214 918.3 2214 924.6 2207.4 926.6 2207.4 932.9 2200.7 935 2200.7 939.2 2194 941.3 2194 945.4 2187.3 947.5 2187.3 953.8 2180.6 955.9 2180.6 958 2174 960.1 2174 964.3 2167.3 966.3 2167.3 970.5 2160.6 972.6 2160.6 974.7 2153.9 976.8 2153.9 981 2147.2 983.1 2147.2 985.1 2140.5 987.2 2140.5 989.3 2133.9 991.4 2133.9 993.5 2127.2 995.6 2127.2 997.7 2120.5 999.8 2120.5 1001.9 2107.1 1006 2107.1 1008.1 2093.8 1012.3 2093.8 1014.4 2058.4 1025.5 2051.7 1025.5 2045 1027.6 2038.3 1027.6 2031.6 1029.6 2018.3 1029.6 2011.6 1031.7 1998.2 1031.7Z" fill="#feca7c" fill-opacity=".3" fill-rule="evenodd"/>
<path d="M1998.2 1032.4 2011.6 1032.4 2018.3 1030.3 2031.6 1030.3 2038.3 1028.2 2045 1028.2 2051.7 1026.1 2058.4 1026.1 2095.8 1014.4 2095.8 1012.3 2109.1 1008.1 2109.1 1006 2122.5 1001.9 2122.5 999.8 2129.2 997.7 2129.2 995.6 2135.9 993.5 2135.9 991.4 2142.5 989.3 2142.5 987.2 2149.2 985.1 2149.2 983.1 2155.9 981 2155.9 976.8 2162.6 974.7 2162.6 972.6 2169.3 970.5 2169.3 966.3 2176 964.3 2176 960.1 2182.6 958 2182.6 955.9 2189.3 953.8 2189.3 947.5 2196 945.4 2196 941.3 2202.7 939.2 2202.7 935 2209.4 932.9 2209.4 926.6 2216 924.6 2216 918.3 2222.7 916.2 2222.7 909.9 2229.4 907.8 2229.4 899.5 2236.1 897.4 2236.1 889 2242.8 887 2242.8 878.6 2249.5 876.5 2249.5 866.1 2256.1 864 2256.1 853.5 2262.8 851.4 2262.8 838.9 2269.5 836.8 2269.5 820.1 2276.2 818 2276.2 799.2 2282.9 797.1 2282.9 772 2289.5 770 2289.5 648.8 2282.9 646.7 2282.9 623.7 2276.2 621.6 2276.2 604.9 2269.5 602.8 2269.5 590.3 2262.8 588.2 2262.8 577.7 2256.1 575.7 2256.1 567.3 2249.5 565.2 2249.5 556.9 2242.8 554.8 2242.8 548.5 2236.1 546.4 2236.1 542.2 2229.4 540.1 2229.4 533.9 2222.7 531.8 2222.7 527.6 2216 525.5 2216 521.3 2209.4 519.2 2209.4 517.2 2202.7 515.1 2202.7 510.9 2196 508.8 2196 506.7 2189.3 504.6 2189.3 502.5 2176 498.4 2176 496.3 2162.6 492.1 2162.6 490 2131.9 480.4 2125.2 480.4 2118.5 478.3 2111.8 478.3 2105.1 476.2 2065 476.2 2058.4 478.3 2051.7 478.3 2045 480.4 2038.3 480.4 2000.9 492.1 2000.9 494.2 1980.8 500.4 1980.8 502.5 1974.2 504.6 1974.2 506.7 1960.8 510.9 1960.8 513 1954.1 515.1 1954.1 517.2 1947.4 519.2 1947.4 521.3 1940.8 523.4 1940.8 527.6 1934.1 529.7 1934.1 531.8 1927.4 533.9 1927.4 538 1920.7 540.1 1920.7 542.2 1914 544.3 1914 548.5 1907.3 550.6 1907.3 554.8 1900.7 556.9 1900.7 561 1894 563.1 1894 569.4 1887.3 571.5 1887.3 575.7 1880.6 577.7 1880.6 584 1873.9 586.1 1873.9 592.4 1867.3 594.5 1867.3 602.8 1860.6 604.9 1860.6 611.2 1853.9 613.3 1853.9 623.7 1847.2 625.8 1847.2 634.2 1840.5 636.2 1840.5 646.7 1833.8 648.8 1833.8 661.3 1827.2 663.4 1827.2 675.9 1820.5 678 1820.5 694.7 1813.8 696.8 1813.8 717.7 1807.1 719.8 1807.1 751.2 1800.4 753.2 1800.4 843.1 1807.1 845.2 1807.1 874.4 1813.8 876.5 1813.8 895.3 1820.5 897.4 1820.5 909.9 1827.2 912 1827.2 924.6 1833.8 926.6 1833.8 935 1840.5 937.1 1840.5 945.4 1847.2 947.5 1847.2 955.9 1853.9 958 1853.9 962.2 1860.6 964.3 1860.6 970.5 1867.3 972.6 1867.3 976.8 1873.9 978.9 1873.9 983.1 1880.6 985.1 1880.6 989.3 1887.3 991.4 1887.3 993.5 1894 995.6 1894 997.7 1900.7 999.8 1900.7 1001.9 1907.3 1003.9 1907.3 1006 1914 1008.1 1914 1010.2 1927.4 1014.4 1927.4 1016.5 1964.8 1028.2 1971.5 1028.2 1978.2 1030.3 1991.5 1030.3 1994.2 1031.1ZM1995.2 1031.1 1991.5 1030 1978.2 1030 1971.5 1027.9 1964.8 1027.9 1928.4 1016.5 1928.4 1014.4 1915 1010.2 1915 1008.1 1908.4 1006 1908.4 1003.9 1901.7 1001.9 1901.7 999.8 1895 997.7 1895 995.6 1888.3 993.5 1888.3 991.4 1881.6 989.3 1881.6 985.1 1874.9 983.1 1874.9 978.9 1868.3 976.8 1868.3 972.6 1861.6 970.5 1861.6 964.3 1854.9 962.2 1854.9 958 1848.2 955.9 1848.2 947.5 1841.5 945.4 1841.5 937.1 1834.9 935 1834.9 926.6 1828.2 924.6 1828.2 912 1821.5 909.9 1821.5 897.4 1814.8 895.3 1814.8 876.5 1808.1 874.4 1808.1 845.2 1801.4 843.1 1801.4 753.2 1808.1 751.2 1808.1 719.8 1814.8 717.7 1814.8 696.8 1821.5 694.7 1821.5 678 1828.2 675.9 1828.2 663.4 1834.9 661.3 1834.9 648.8 1841.5 646.7 1841.5 636.2 1848.2 634.2 1848.2 625.8 1854.9 623.7 1854.9 613.3 1861.6 611.2 1861.6 604.9 1868.3 602.8 1868.3 594.5 1874.9 592.4 1874.9 586.1 1881.6 584 1881.6 577.7 1888.3 575.7 1888.3 571.5 1895 569.4 1895 563.1 1901.7 561 1901.7 556.9 1908.4 554.8 1908.4 550.6 1915 548.5 1915 544.3 1921.7 542.2 1921.7 540.1 1928.4 538 1928.4 533.9 1935.1 531.8 1935.1 529.7 1941.8 527.6 1941.8 523.4 1948.4 521.3 1948.4 519.2 1955.1 517.2 1955.1 515.1 1961.8 513 1961.8 510.9 1975.2 506.7 1975.2 504.6 1981.9 502.5 1981.9 500.4 2001.9 494.2 2001.9 492.1 2038.3 480.7 2045 480.7 2051.7 478.6 2058.4 478.6 2065 476.5 2105.1 476.5 2111.8 478.6 2118.5 478.6 2125.2 480.7 2131.9 480.7 2161.6 490 2161.6 492.1 2175 496.3 2175 498.4 2188.3 502.5 2188.3 504.6 2195 506.7 2195 508.8 2201.7 510.9 2201.7 515.1 2208.4 517.2 2208.4 519.2 2215 521.3 2215 525.5 2221.7 527.6 2221.7 531.8 2228.4 533.9 2228.4 540.1 2235.1 542.2 2235.1 546.4 2241.8 548.5 2241.8 554.8 2248.5 556.9 2248.5 565.2 2255.1 567.3 2255.1 575.7 2261.8 577.7 2261.8 588.2 2268.5 590.3 2268.5 602.8 2275.2 604.9 2275.2 621.6 2281.9 623.7 2281.9 646.7 2288.5 648.8 2288.5 770 2281.9 772 2281.9 797.1 2275.2 799.2 2275.2 818 2268.5 820.1 2268.5 836.8 2261.8 838.9 2261.8 851.4 2255.1 853.5 2255.1 864 2248.5 866.1 2248.5 876.5 2241.8 878.6 2241.8 887 2235.1 889 2235.1 897.4 2228.4 899.5 2228.4 907.8 2221.7 909.9 2221.7 916.2 2215 918.3 2215 924.6 2208.4 926.6 2208.4 932.9 2201.7 935 2201.7 939.2 2195 941.3 2195 945.4 2188.3 947.5 2188.3 953.8 2181.6 955.9 2181.6 958 2175 960.1 2175 964.3 2168.3 966.3 2168.3 970.5 2161.6 972.6 2161.6 974.7 2154.9 976.8 2154.9 981 2148.2 983.1 2148.2 985.1 2141.5 987.2 2141.5 989.3 2134.9 991.4 2134.9 993.5 2128.2 995.6 2128.2 997.7 2121.5 999.8 2121.5 1001.9 2108.1 1006 2108.1 1008.1 2094.8 1012.3 2094.8 1014.4 2058.4 1025.8 2051.7 1025.8 2045 1027.9 2038.3 1027.9 2031.6 1030 2018.3 1030 2011.6 1032 1998.2 1032Z" fill="#feffc0" fill-opacity=".3" fill-rule="evenodd"/>
<path d="M1998.2 1032.7 2011.6 1032.7 2018.3 1030.6 2031.6 1030.6 2038.3 1028.5 2045 1028.5 2051.7 1026.4 2058.4 1026.4 2096.8 1014.4 2096.8 1012.3 2110.1 1008.1 2110.1 1006 2123.5 1001.9 2123.5 999.8 2130.2 997.7 2130.2 995.6 2136.9 993.5 2136.9 991.4 2143.6 989.3 2143.6 987.2 2150.2 985.1 2150.2 983.1 2156.9 981 2156.9 976.8 2163.6 974.7 2163.6 972.6 2170.3 970.5 2170.3 966.3 2177 964.3 2177 960.1 2183.6 958 2183.6 955.9 2190.3 953.8 2190.3 947.5 2197 945.4 2197 941.3 2203.7 939.2 2203.7 935 2210.4 932.9 2210.4 926.6 2217.1 924.6 2217.1 918.3 2223.7 916.2 2223.7 909.9 2230.4 907.8 2230.4 899.5 2237.1 897.4 2237.1 889 2243.8 887 2243.8 878.6 2250.5 876.5 2250.5 866.1 2257.1 864 2257.1 853.5 2263.8 851.4 2263.8 838.9 2270.5 836.8 2270.5 820.1 2277.2 818 2277.2 799.2 2283.9 797.1 2283.9 772 2290.6 770 2290.6 648.8 2283.9 646.7 2283.9 623.7 2277.2 621.6 2277.2 604.9 2270.5 602.8 2270.5 590.3 2263.8 588.2 2263.8 577.7 2257.1 575.7 2257.1 567.3 2250.5 565.2 2250.5 556.9 2243.8 554.8 2243.8 548.5 2237.1 546.4 2237.1 542.2 2230.4 540.1 2230.4 533.9 2223.7 531.8 2223.7 527.6 2217.1 525.5 2217.1 521.3 2210.4 519.2 2210.4 517.2 2203.7 515.1 2203.7 510.9 2197 508.8 2197 506.7 2190.3 504.6 2190.3 502.5 2177 498.4 2177 496.3 2163.6 492.1 2163.6 490 2131.9 480.1 2125.2 480.1 2118.5 478 2111.8 478 2105.1 475.9 2065 475.9 2058.4 478 2051.7 478 2045 480.1 2038.3 480.1 1999.9 492.1 1999.9 494.2 1979.8 500.4 1979.8 502.5 1973.2 504.6 1973.2 506.7 1959.8 510.9 1959.8 513 1953.1 515.1 1953.1 517.2 1946.4 519.2 1946.4 521.3 1939.8 523.4 1939.8 527.6 1933.1 529.7 1933.1 531.8 1926.4 533.9 1926.4 538 1919.7 540.1 1919.7 542.2 1913 544.3 1913 548.5 1906.3 550.6 1906.3 554.8 1899.7 556.9 1899.7 561 1893 563.1 1893 569.4 1886.3 571.5 1886.3 575.7 1879.6 577.7 1879.6 584 1872.9 586.1 1872.9 592.4 1866.3 594.5 1866.3 602.8 1859.6 604.9 1859.6 611.2 1852.9 613.3 1852.9 623.7 1846.2 625.8 1846.2 634.2 1839.5 636.2 1839.5 646.7 1832.8 648.8 1832.8 661.3 1826.2 663.4 1826.2 675.9 1819.5 678 1819.5 694.7 1812.8 696.8 1812.8 717.7 1806.1 719.8 1806.1 751.2 1799.4 753.2 1799.4 843.1 1806.1 845.2 1806.1 874.4 1812.8 876.5 1812.8 895.3 1819.5 897.4 1819.5 909.9 1826.2 912 1826.2 924.6 1832.8 926.6 1832.8 935 1839.5 937.1 1839.5 945.4 1846.2 947.5 1846.2 955.9 1852.9 958 1852.9 962.2 1859.6 964.3 1859.6 970.5 1866.3 972.6 1866.3 976.8 1872.9 978.9 1872.9 983.1 1879.6 985.1 1879.6 989.3 1886.3 991.4 1886.3 993.5 1893 995.6 1893 997.7 1899.7 999.8 1899.7 1001.9 1906.3 1003.9 1906.3 1006 1913 1008.1 1913 1010.2 1926.4 1014.4 1926.4 1016.5 1964.8 1028.5 1971.5 1028.5 1978.2 1030.6 1991.5 1030.6 1993.2 1031.1ZM1994.2 1031.1 1991.5 1030.3 1978.2 1030.3 1971.5 1028.2 1964.8 1028.2 1927.4 1016.5 1927.4 1014.4 1914 1010.2 1914 1008.1 1907.3 1006 1907.3 1003.9 1900.7 1001.9 1900.7 999.8 1894 997.7 1894 995.6 1887.3 993.5 1887.3 991.4 1880.6 989.3 1880.6 985.1 1873.9 983.1 1873.9 978.9 1867.3 976.8 1867.3 972.6 1860.6 970.5 1860.6 964.3 1853.9 962.2 1853.9 958 1847.2 955.9 1847.2 947.5 1840.5 945.4 1840.5 937.1 1833.8 935 1833.8 926.6 1827.2 924.6 1827.2 912 1820.5 909.9 1820.5 897.4 1813.8 895.3 1813.8 876.5 1807.1 874.4 1807.1 845.2 1800.4 843.1 1800.4 753.2 1807.1 751.2 1807.1 719.8 1813.8 717.7 1813.8 696.8 1820.5 694.7 1820.5 678 1827.2 675.9 1827.2 663.4 1833.8 661.3 1833.8 648.8 1840.5 646.7 1840.5 636.2 1847.2 634.2 1847.2 625.8 1853.9 623.7 1853.9 613.3 1860.6 611.2 1860.6 604.9 1867.3 602.8 1867.3 594.5 1873.9 592.4 1873.9 586.1 1880.6 584 1880.6 577.7 1887.3 575.7 1887.3 571.5 1894 569.4 1894 563.1 1900.7 561 1900.7 556.9 1907.3 554.8 1907.3 550.6 1914 548.5 1914 544.3 1920.7 542.2 1920.7 540.1 1927.4 538 1927.4 533.9 1934.1 531.8 1934.1 529.7 1940.8 527.6 1940.8 523.4 1947.4 521.3 1947.4 519.2 1954.1 517.2 1954.1 515.1 1960.8 513 1960.8 510.9 1974.2 506.7 1974.2 504.6 1980.8 502.5 1980.8 500.4 2000.9 494.2 2000.9 492.1 2038.3 480.4 2045 480.4 2051.7 478.3 2058.4 478.3 2065 476.2 2105.1 476.2 2111.8 478.3 2118.5 478.3 2125.2 480.4 2131.9 480.4 2162.6 490 2162.6 492.1 2176 496.3 2176 498.4 2189.3 502.5 2189.3 504.6 2196 506.7 2196 508.8 2202.7 510.9 2202.7 515.1 2209.4 517.2 2209.4 519.2 2216 521.3 2216 525.5 2222.7 527.6 2222.7 531.8 2229.4 533.9 2229.4 540.1 2236.1 542.2 2236.1 546.4 2242.8 548.5 2242.8 554.8 2249.5 556.9 2249.5 565.2 2256.1 567.3 2256.1 575.7 2262.8 577.7 2262.8 588.2 2269.5 590.3 2269.5 602.8 2276.2 604.9 2276.2 621.6 2282.9 623.7 2282.9 646.7 2289.5 648.8 2289.5 770 2282.9 772 2282.9 797.1 2276.2 799.2 2276.2 818 2269.5 820.1 2269.5 836.8 2262.8 838.9 2262.8 851.4 2256.1 853.5 2256.1 864 2249.5 866.1 2249.5 876.5 2242.8 878.6 2242.8 887 2236.1 889 2236.1 897.4 2229.4 899.5 2229.4 907.8 2222.7 909.9 2222.7 916.2 2216 918.3 2216 924.6 2209.4 926.6 2209.4 932.9 2202.7 935 2202.7 939.2 2196 941.3 2196 945.4 2189.3 947.5 2189.3 953.8 2182.6 955.9 2182.6 958 2176 960.1 2176 964.3 2169.3 966.3 2169.3 970.5 2162.6 972.6 2162.6 974.7 2155.9 976.8 2155.9 981 2149.2 983.1 2149.2 985.1 2142.5 987.2 2142.5 989.3 2135.9 991.4 2135.9 993.5 2129.2 995.6 2129.2 997.7 2122.5 999.8 2122.5 1001.9 2109.1 1006 2109.1 1008.1 2095.8 1012.3 2095.8 1014.4 2058.4 1026.1 2051.7 1026.1 2045 1028.2 2038.3 1028.2 2031.6 1030.3 2018.3 1030.3 2011.6 1032.4 1998.2 1032.4Z" fill="#c9e8f2" fill-opacity=".3" fill-rule="evenodd"/>
<path d="M1998.2 1033 2011.6 1033 2018.3 1030.9 2031.6 1030.9 2038.3 1028.8 2045 1028.8 2051.7 1026.7 2058.4 1026.7 2097.8 1014.4 2097.8 1012.3 2111.1 1008.1 2111.1 1006 2124.5 1001.9 2124.5 999.8 2131.2 997.7 2131.2 995.6 2137.9 993.5 2137.9 991.4 2144.6 989.3 2144.6 987.2 2151.2 985.1 2151.2 983.1 2157.9 981 2157.9 976.8 2164.6 974.7 2164.6 972.6 2171.3 970.5 2171.3 966.3 2178 964.3 2178 960.1 2184.6 958 2184.6 955.9 2191.3 953.8 2191.3 947.5 2198 945.4 2198 941.3 2204.7 939.2 2204.7 935 2211.4 932.9 2211.4 926.6 2218.1 924.6 2218.1 918.3 2224.7 916.2 2224.7 909.9 2231.4 907.8 2231.4 899.5 2238.1 897.4 2238.1 889 2244.8 887 2244.8 878.6 2251.5 876.5 2251.5 866.1 2258.1 864 2258.1 853.5 2264.8 851.4 2264.8 838.9 2271.5 836.8 2271.5 820.1 2278.2 818 2278.2 799.2 2284.9 797.1 2284.9 772 2291.6 770 2291.6 648.8 2284.9 646.7 2284.9 623.7 2278.2 621.6 2278.2 604.9 2271.5 602.8 2271.5 590.3 2264.8 588.2 2264.8 577.7 2258.1 575.7 2258.1 567.3 2251.5 565.2 2251.5 556.9 2244.8 554.8 2244.8 548.5 2238.1 546.4 2238.1 542.2 2231.4 540.1 2231.4 533.9 2224.7 531.8 2224.7 527.6 2218.1 525.5 2218.1 521.3 2211.4 519.2 2211.4 517.2 2204.7 515.1 2204.7 510.9 2198 508.8 2198 506.7 2191.3 504.6 2191.3 502.5 2178 498.4 2178 496.3 2164.6 492.1 2164.6 490 2131.9 479.8 2125.2 479.8 2118.5 477.7 2111.8 477.7 2105.1 475.6 2065 475.6 2058.4 477.7 2051.7 477.7 2045 479.8 2038.3 479.8 1998.9 492.1 1998.9 494.2 1978.8 500.4 1978.8 502.5 1972.2 504.6 1972.2 506.7 1958.8 510.9 1958.8 513 1952.1 515.1 1952.1 517.2 1945.4 519.2 1945.4 521.3 1938.8 523.4 1938.8 527.6 1932.1 529.7 1932.1 531.8 1925.4 533.9 1925.4 538 1918.7 540.1 1918.7 542.2 1912 544.3 1912 548.5 1905.3 550.6 1905.3 554.8 1898.7 556.9 1898.7 561 1892 563.1 1892 569.4 1885.3 571.5 1885.3 575.7 1878.6 577.7 1878.6 584 1871.9 586.1 1871.9 592.4 1865.3 594.5 1865.3 602.8 1858.6 604.9 1858.6 611.2 1851.9 613.3 1851.9 623.7 1845.2 625.8 1845.2 634.2 1838.5 636.2 1838.5 646.7 1831.8 648.8 1831.8 661.3 1825.2 663.4 1825.2 675.9 1818.5 678 1818.5 694.7 1811.8 696.8 1811.8 717.7 1805.1 719.8 1805.1 751.2 1798.4 753.2 1798.4 843.1 1805.1 845.2 1805.1 874.4 1811.8 876.5 1811.8 895.3 1818.5 897.4 1818.5 909.9 1825.2 912 1825.2 924.6 1831.8 926.6 1831.8 935 1838.5 937.1 1838.5 945.4 1845.2 947.5 1845.2 955.9 1851.9 958 1851.9 962.2 1858.6 964.3 1858.6 970.5 1865.3 972.6 1865.3 976.8 1871.9 978.9 1871.9 983.1 1878.6 985.1 1878.6 989.3 1885.3 991.4 1885.3 993.5 1892 995.6 1892 997.7 1898.7 999.8 1898.7 1001.9 1905.3 1003.9 1905.3 1006 1912 1008.1 1912 1010.2 1925.4 1014.4 1925.4 1016.5 1964.8 1028.8 1971.5 1028.8 1978.2 1030.9 1991.5 1030.9 1992.2 1031.1ZM1993.2 1031.1 1991.5 1030.6 1978.2 1030.6 1971.5 1028.5 1964.8 1028.5 1926.4 1016.5 1926.4 1014.4 1913 1010.2 1913 1008.1 1906.3 1006 1906.3 1003.9 1899.7 1001.9 1899.7 999.8 1893 997.7 1893 995.6 1886.3 993.5 1886.3 991.4 1879.6 989.3 1879.6 985.1 1872.9 983.1 1872.9 978.9 1866.3 976.8 1866.3 972.6 1859.6 970.5 1859.6 964.3 1852.9 962.2 1852.9 958 1846.2 955.9 1846.2 947.5 1839.5 945.4 1839.5 937.1 1832.8 935 1832.8 926.6 1826.2 924.6 1826.2 912 1819.5 909.9 1819.5 897.4 1812.8 895.3 1812.8 876.5 1806.1 874.4 1806.1 845.2 1799.4 843.1 1799.4 753.2 1806.1 751.2 1806.1 719.8 1812.8 717.7 1812.8 696.8 1819.5 694.7 1819.5 678 1826.2 675.9 1826.2 663.4 1832.8 661.3 1832.8 648.8 1839.5 646.7 1839.5 636.2 1846.2 634.2 1846.2 625.8 1852.9 623.7 1852.9 613.3 1859.6 611.2 1859.6 604.9 1866.3 602.8 1866.3 594.5 1872.9 592.4 1872.9 586.1 1879.6 584 1879.6 577.7 1886.3 575.7 1886.3 571.5 1893 569.4 1893 563.1 1899.7 561 1899.7 556.9 1906.3 554.8 1906.3 550.6 1913 548.5 1913 544.3 1919.7 542.2 1919.7 540.1 1926.4 538 1926.4 533.9 1933.1 531.8 1933.1 529.7 1939.8 527.6 1939.8 523.4 1946.4 521.3 1946.4 519.2 1953.1 517.2 1953.1 515.1 1959.8 513 1959.8 510.9 1973.2 506.7 1973.2 504.6 1979.8 502.5 1979.8 500.4 1999.9 494.2 1999.9 492.1 2038.3 480.1 2045 480.1 2051.7 478 2058.4 478 2065 475.9 2105.1 475.9 2111.8 478 2118.5 478 2125.2 480.1 2131.9 480.1 2163.6 490 2163.6 492.1 2177 496.3 2177 498.4 2190.3 502.5 2190.3 504.6 2197 506.7 2197 508.8 2203.7 510.9 2203.7 515.1 2210.4 517.2 2210.4 519.2 2217.1 521.3 2217.1 525.5 2223.7 527.6 2223.7 531.8 2230.4 533.9 2230.4 540.1 2237.1 542.2 2237.1 546.4 2243.8 548.5 2243.8 554.8 2250.5 556.9 2250.5 565.2 2257.1 567.3 2257.1 575.7 2263.8 577.7 2263.8 588.2 2270.5 590.3 2270.5 602.8 2277.2 604.9 2277.2 621.6 2283.9 623.7 2283.9 646.7 2290.6 648.8 2290.6 770 2283.9 772 2283.9 797.1 2277.2 799.2 2277.2 818 2270.5 820.1 2270.5 836.8 2263.8 838.9 2263.8 851.4 2257.1 853.5 2257.1 864 2250.5 866.1 2250.5 876.5 2243.8 878.6 2243.8 887 2237.1 889 2237.1 897.4 2230.4 899.5 2230.4 907.8 2223.7 909.9 2223.7 916.2 2217.1 918.3 2217.1 924.6 2210.4 926.6 2210.4 932.9 2203.7 935 2203.7 939.2 2197 941.3 2197 945.4 2190.3 947.5 2190.3 953.8 2183.6 955.9 2183.6 958 2177 960.1 2177 964.3 2170.3 966.3 2170.3 970.5 2163.6 972.6 2163.6 974.7 2156.9 976.8 2156.9 981 2150.2 983.1 2150.2 985.1 2143.6 987.2 2143.6 989.3 2136.9 991.4 2136.9 993.5 2130.2 995.6 2130.2 997.7 2123.5 999.8 2123.5 1001.9 2110.1 1006 2110.1 1008.1 2096.8 1012.3 2096.8 1014.4 2058.4 1026.4 2051.7 1026.4 2045 1028.5 2038.3 1028.5 2031.6 1030.6 2018.3 1030.6 2011.6 1032.7 1998.2 1032.7Z" fill="#7ab2d4" fill-opacity=".3" fill-rule="evenodd"/>
<path d="M1664.1 1217 3033.9 1217 3033.9 101.4 1657.5 101.4 1657.5 1217ZM1992.2 1031.1 1991.5 1030.9 1978.2 1030.9 1971.5 1028.8 1964.8 1028.8 1925.4 1016.5 1925.4 1014.4 1912 1010.2 1912 1008.1 1905.3 1006 1905.3 1003.9 1898.7 1001.9 1898.7 999.8 1892 997.7 1892 995.6 1885.3 993.5 1885.3 991.4 1878.6 989.3 1878.6 985.1 1871.9 983.1 1871.9 978.9 1865.3 976.8 1865.3 972.6 1858.6 970.5 1858.6 964.3 1851.9 962.2 1851.9 958 1845.2 955.9 1845.2 947.5 1838.5 945.4 1838.5 937.1 1831.8 935 1831.8 926.6 1825.2 924.6 1825.2 912 1818.5 909.9 1818.5 897.4 1811.8 895.3 1811.8 876.5 1805.1 874.4 1805.1 845.2 1798.4 843.1 1798.4 753.2 1805.1 751.2 1805.1 719.8 1811.8 717.7 1811.8 696.8 1818.5 694.7 1818.5 678 1825.2 675.9 1825.2 663.4 1831.8 661.3 1831.8 648.8 1838.5 646.7 1838.5 636.2 1845.2 634.2 1845.2 625.8 1851.9 623.7 1851.9 613.3 1858.6 611.2 1858.6 604.9 1865.3 602.8 1865.3 594.5 1871.9 592.4 1871.9 586.1 1878.6 584 1878.6 577.7 1885.3 575.7 1885.3 571.5 1892 569.4 1892 563.1 1898.7 561 1898.7 556.9 1905.3 554.8 1905.3 550.6 1912 548.5 1912 544.3 1918.7 542.2 1918.7 540.1 1925.4 538 1925.4 533.9 1932.1 531.8 1932.1 529.7 1938.8 527.6 1938.8 523.4 1945.4 521.3 1945.4 519.2 1952.1 517.2 1952.1 515.1 1958.8 513 1958.8 510.9 1972.2 506.7 1972.2 504.6 1978.8 502.5 1978.8 500.4 1998.9 494.2 1998.9 492.1 2038.3 479.8 2045 479.8 2051.7 477.7 2058.4 477.7 2065 475.6 2105.1 475.6 2111.8 477.7 2118.5 477.7 2125.2 479.8 2131.9 479.8 2164.6 490 2164.6 492.1 2178 496.3 2178 498.4 2191.3 502.5 2191.3 504.6 2198 506.7 2198 508.8 2204.7 510.9 2204.7 515.1 2211.4 517.2 2211.4 519.2 2218.1 521.3 2218.1 525.5 2224.7 527.6 2224.7 531.8 2231.4 533.9 2231.4 540.1 2238.1 542.2 2238.1 546.4 2244.8 548.5 2244.8 554.8 2251.5 556.9 2251.5 565.2 2258.1 567.3 2258.1 575.7 2264.8 577.7 2264.8 588.2 2271.5 590.3 2271.5 602.8 2278.2 604.9 2278.2 621.6 2284.9 623.7 2284.9 646.7 2291.6 648.8 2291.6 770 2284.9 772 2284.9 797.1 2278.2 799.2 2278.2 818 2271.5 820.1 2271.5 836.8 2264.8 838.9 2264.8 851.4 2258.1 853.5 2258.1 864 2251.5 866.1 2251.5 876.5 2244.8 878.6 2244.8 887 2238.1 889 2238.1 897.4 2231.4 899.5 2231.4 907.8 2224.7 909.9 2224.7 916.2 2218.1 918.3 2218.1 924.6 2211.4 926.6 2211.4 932.9 2204.7 935 2204.7 939.2 2198 941.3 2198 945.4 2191.3 947.5 2191.3 953.8 2184.6 955.9 2184.6 958 2178 960.1 2178 964.3 2171.3 966.3 2171.3 970.5 2164.6 972.6 2164.6 974.7 2157.9 976.8 2157.9 981 2151.2 983.1 2151.2 985.1 2144.6 987.2 2144.6 989.3 2137.9 991.4 2137.9 993.5 2131.2 995.6 2131.2 997.7 2124.5 999.8 2124.5 1001.9 2111.1 1006 2111.1 1008.1 2097.8 1012.3 2097.8 1014.4 2058.4 1026.7 2051.7 1026.7 2045 1028.8 2038.3 1028.8 2031.6 1030.9 2018.3 1030.9 2011.6 1033 1998.2 1033Z" fill="#3f62ab" fill-opacity=".3" fill-rule="evenodd"/>
<g fill="#00f" fill-opacity=".5" stroke="#00008b" stroke-opacity=".5" stroke-width="1.33"><circle cx="2083.6" cy="774.3" r="10.2"/><circle cx="2048.9" cy="611.4" r="10.2"/><circle cx="2153.2" cy="763.3" r="10.2"/><circle cx="1971" cy="713.7" r="10.2"/><circle cx="2165.7" cy="678.5" r="10.2"/><circle cx="2177.6" cy="780.1" r="10.2"/><circle cx="2129.4" cy="945.6" r="10.2"/><circle cx="2297" cy="754.3" r="10.2"/><circle cx="2219.4" cy="686.2" r="10.2"/><circle cx="2231" cy="862.8" r="10.2"/><circle cx="1993.9" cy="810.4" r="10.2"/><circle cx="2139.7" cy="891.6" r="10.2"/><circle cx="2178" cy="719.8" r="10.2"/><circle cx="2231.6" cy="676.1" r="10.2"/><circle cx="2188.3" cy="758.8" r="10.2"/><circle cx="2161.8" cy="543.1" r="10.2"/><circle cx="2142.8" cy="852.4" r="10.2"/><circle cx="2066.5" cy="892.4" r="10.2"/><circle cx="2133.1" cy="949.4" r="10.2"/><circle cx="2250.4" cy="689.1" r="10.2"/><circle cx="2057.1" cy="749.9" r="10.2"/><circle cx="2143" cy="773.4" r="10.2"/><circle cx="2275.8" cy="777.1" r="10.2"/><circle cx="2158.5" cy="627" r="10.2"/><circle cx="2118.1" cy="933.4" r="10.2"/><circle cx="2102.8" cy="794.2" r="10.2"/><circle cx="2184.2" cy="665.7" r="10.2"/><circle cx="2020.3" cy="681.8" r="10.2"/><circle cx="2210.9" cy="753.8" r="10.2"/><circle cx="2085.3" cy="657.6" r="10.2"/><circle cx="2175.6" cy="751.5" r="10.2"/><circle cx="2246.9" cy="835.5" r="10.2"/><circle cx="2035.5" cy="632.9" r="10.2"/><circle cx="2122.7" cy="643.4" r="10.2"/><circle cx="2102.5" cy="821.4" r="10.2"/><circle cx="2075.5" cy="601.8" r="10.2"/><circle cx="2112.4" cy="588" r="10.2"/><circle cx="2363.6" cy="589.8" r="10.2"/><circle cx="2124" cy="778.9" r="10.2"/><circle cx="2144.4" cy="948.9" r="10.2"/><circle cx="2144.6" cy="704.2" r="10.2"/><circle cx="1996.4" cy="840.2" r="10.2"/><circle cx="2210.4" cy="774" r="10.2"/><circle cx="2038.6" cy="739.1" r="10.2"/><circle cx="2171.7" cy="679.8" r="10.2"/><circle cx="2107.3" cy="651.7" r="10.2"/><circle cx="2198.2" cy="759.5" r="10.2"/><circle cx="2183.3" cy="882.5" r="10.2"/><circle cx="2097.4" cy="728.5" r="10.2"/><circle cx="2130.8" cy="770.1" r="10.2"/><circle cx="2266.2" cy="748.7" r="10.2"/><circle cx="2170.5" cy="817.4" r="10.2"/><circle cx="2138.5" cy="701.2" r="10.2"/><circle cx="1949.6" cy="782" r="10.2"/><circle cx="2105.2" cy="761.1" r="10.2"/><circle cx="2308.5" cy="694.9" r="10.2"/><circle cx="2092.2" cy="500.3" r="10.2"/><circle cx="2142.7" cy="710.6" r="10.2"/><circle cx="2146.1" cy="862.9" r="10.2"/><circle cx="2012" cy="703" r="10.2"/><circle cx="2065.6" cy="860.1" r="10.2"/><circle cx="2014.4" cy="926.9" r="10.2"/><circle cx="2046.3" cy="542.6" r="10.2"/><circle cx="2228.2" cy="775.4" r="10.2"/><circle cx="2125.3" cy="799.8" r="10.2"/><circle cx="2272.8" cy="695.7" r="10.2"/><circle cx="2222.1" cy="668.8" r="10.2"/><circle cx="2195.3" cy="564.5" r="10.2"/><circle cx="2205.8" cy="756.7" r="10.2"/><circle cx="2067.5" cy="893.1" r="10.2"/><circle cx="2090.9" cy="621.3" r="10.2"/><circle cx="2276.7" cy="682.4" r="10.2"/><circle cx="2094.4" cy="675" r="10.2"/><circle cx="2260.6" cy="844.3" r="10.2"/><circle cx="2075.8" cy="731.2" r="10.2"/><circle cx="2100.7" cy="718.6" r="10.2"/><circle cx="2189.2" cy="703.8" r="10.2"/><circle cx="2109.8" cy="826.5" r="10.2"/><circle cx="1947.8" cy="751.3" r="10.2"/><circle cx="2231.9" cy="646.7" r="10.2"/><circle cx="2210" cy="639.7" r="10.2"/><circle cx="2030" cy="861.6" r="10.2"/><circle cx="2033" cy="732" r="10.2"/><circle cx="2027.9" cy="578.8" r="10.2"/><circle cx="2160.7" cy="815.2" r="10.2"/><circle cx="2221.8" cy="803.3" r="10.2"/><circle cx="2131.4" cy="709.9" r="10.2"/><circle cx="2092.2" cy="671" r="10.2"/><circle cx="2109.2" cy="600.5" r="10.2"/><circle cx="2119.5" cy="465.3" r="10.2"/><circle cx="2080.4" cy="850.2" r="10.2"/><circle cx="2222.8" cy="667.6" r="10.2"/><circle cx="2140.5" cy="668.2" r="10.2"/><circle cx="2085" cy="767" r="10.2"/><circle cx="2226.5" cy="874.8" r="10.2"/><circle cx="2159.6" cy="647.6" r="10.2"/><circle cx="2123.8" cy="877.7" r="10.2"/><circle cx="2107.4" cy="712.5" r="10.2"/><circle cx="2209.3" cy="706" r="10.2"/><circle cx="2137.1" cy="863" r="10.2"/><circle cx="2087.9" cy="700" r="10.2"/><circle cx="2013.9" cy="670.9" r="10.2"/><circle cx="2269.1" cy="801.8" r="10.2"/><circle cx="2073.8" cy="709.2" r="10.2"/><circle cx="2032.4" cy="373.4" r="10.2"/><circle cx="2060.9" cy="648.2" r="10.2"/><circle cx="2031" cy="707.7" r="10.2"/><circle cx="2148.5" cy="661.1" r="10.2"/><circle cx="2203.7" cy="748.4" r="10.2"/><circle cx="2172.9" cy="724.4" r="10.2"/><circle cx="1934.7" cy="999.5" r="10.2"/><circle cx="2084.1" cy="927.9" r="10.2"/><circle cx="2159.1" cy="623.5" r="10.2"/><circle cx="2135.7" cy="856.6" r="10.2"/><circle cx="2187" cy="657.8" r="10.2"/><circle cx="2194.1" cy="704" r="10.2"/><circle cx="2132.2" cy="813.2" r="10.2"/><circle cx="1919.7" cy="743.1" r="10.2"/><circle cx="2315.8" cy="670.5" r="10.2"/><circle cx="2179.8" cy="642" r="10.2"/><circle cx="2204.1" cy="735.5" r="10.2"/><circle cx="2070.4" cy="673.5" r="10.2"/><circle cx="2245" cy="746.1" r="10.2"/><circle cx="2181" cy="798.7" r="10.2"/><circle cx="1958" cy="755.4" r="10.2"/><circle cx="2235.2" cy="618.5" r="10.2"/><circle cx="1916.8" cy="702.4" r="10.2"/><circle cx="2276.7" cy="752.2" r="10.2"/><circle cx="2018.5" cy="853.3" r="10.2"/><circle cx="2077.2" cy="681" r="10.2"/><circle cx="2216" cy="726.2" r="10.2"/><circle cx="2444.7" cy="758" r="10.2"/><circle cx="2167.5" cy="864.7" r="10.2"/><circle cx="1993.2" cy="936.2" r="10.2"/><circle cx="2168" cy="720.8" r="10.2"/><circle cx="2011.2" cy="931.4" r="10.2"/><circle cx="2019.3" cy="778.1" r="10.2"/><circle cx="2214.6" cy="672.2" r="10.2"/><circle cx="2117.2" cy="812.3" r="10.2"/><circle cx="2126.6" cy="787.1" r="10.2"/><circle cx="2109.6" cy="683" r="10.2"/><circle cx="1995.2" cy="915.6" r="10.2"/><circle cx="1952.8" cy="1002.9" r="10.2"/><circle cx="2135.3" cy="682.9" r="10.2"/><circle cx="2109.8" cy="816.9" r="10.2"/><circle cx="2154" cy="790.1" r="10.2"/><circle cx="2173.1" cy="644.3" r="10.2"/><circle cx="2103.6" cy="826.1" r="10.2"/><circle cx="2040.3" cy="740.8" r="10.2"/><circle cx="2044.5" cy="706" r="10.2"/><circle cx="2213" cy="779.3" r="10.2"/><circle cx="2050.8" cy="706" r="10.2"/><circle cx="2128.9" cy="734" r="10.2"/><circle cx="2016" cy="841.9" r="10.2"/><circle cx="2079.7" cy="782.1" r="10.2"/><circle cx="2135.2" cy="629.7" r="10.2"/><circle cx="2041" cy="687.8" r="10.2"/><circle cx="2005.9" cy="781.1" r="10.2"/><circle cx="2068.4" cy="796.8" r="10.2"/><circle cx="2099.7" cy="768.6" r="10.2"/><circle cx="2112" cy="689.2" r="10.2"/><circle cx="2179.1" cy="512.8" r="10.2"/><circle cx="2237.7" cy="840.1" r="10.2"/><circle cx="2010.1" cy="699.4" r="10.2"/><circle cx="2062.2" cy="700.8" r="10.2"/><circle cx="2140.7" cy="836.3" r="10.2"/><circle cx="2129.7" cy="816.6" r="10.2"/><circle cx="2038.9" cy="788.6" r="10.2"/><circle cx="2209.7" cy="755.4" r="10.2"/><circle cx="2096.7" cy="814.7" r="10.2"/><circle cx="2202.4" cy="698.7" r="10.2"/><circle cx="2111.7" cy="804.3" r="10.2"/><circle cx="2169.7" cy="709.7" r="10.2"/><circle cx="2281.5" cy="847.1" r="10.2"/><circle cx="2198.4" cy="747.6" r="10.2"/><circle cx="2081" cy="606.7" r="10.2"/><circle cx="2050" cy="786.6" r="10.2"/><circle cx="2142.6" cy="846.7" r="10.2"/><circle cx="2133.7" cy="774.9" r="10.2"/><circle cx="2108.4" cy="838.7" r="10.2"/><circle cx="2060.8" cy="606.8" r="10.2"/><circle cx="2133.6" cy="702.9" r="10.2"/><circle cx="2068.7" cy="806.2" r="10.2"/><circle cx="2107.3" cy="751.4" r="10.2"/><circle cx="2128.8" cy="826.9" r="10.2"/><circle cx="2119.9" cy="697" r="10.2"/><circle cx="1980.6" cy="690.8" r="10.2"/><circle cx="1936.2" cy="884.3" r="10.2"/><circle cx="2044.4" cy="752.5" r="10.2"/><circle cx="1933.3" cy="889.4" r="10.2"/><circle cx="2214.5" cy="783" r="10.2"/><circle cx="2333.9" cy="739.3" r="10.2"/><circle cx="2197.7" cy="709.8" r="10.2"/><circle cx="2073.1" cy="567.3" r="10.2"/><circle cx="2046.5" cy="831.2" r="10.2"/><circle cx="2206.5" cy="671.5" r="10.2"/><circle cx="2229.4" cy="524.9" r="10.2"/><circle cx="2023.7" cy="826.8" r="10.2"/><circle cx="2272.1" cy="561.9" r="10.2"/><circle cx="2123.8" cy="618.6" r="10.2"/></g>
<g fill="#f00" fill-opacity=".5" stroke="#8b0000" stroke-opacity=".5" stroke-width="1.33"><rect x="2699.5" y="725.5" width="21" height="20"/><rect x="2383.5" y="685.5" width="21" height="20"/><rect x="2454.5" y="543.5" width="21" height="21"/><rect x="2589.5" y="662.5" width="20" height="21"/><rect x="2350.5" y="597.5" width="21" height="21"/><rect x="2280.5" y="960.5" width="20" height="21"/><rect x="2641.5" y="350.5" width="21" height="21"/><rect x="2342.5" y="863.5" width="20" height="21"/><rect x="2092.5" y="758.5" width="20" height="21"/><rect x="2163.5" y="747.5" width="20" height="20"/><rect x="1956.5" y="457.5" width="20" height="21"/><rect x="2408.5" y="484.5" width="21" height="21"/><rect x="2231.5" y="455.5" width="20" height="21"/><rect x="2549.5" y="502.5" width="21" height="20"/><rect x="2231.5" y="1107.5" width="20" height="21"/><rect x="2658.5" y="1037.5" width="20" height="21"/><rect x="2418.5" y="534.5" width="21" height="21"/><rect x="2102.5" y="764.5" width="21" height="20"/><rect x="2114.5" y="1063.5" width="21" height="21"/><rect x="2706.5" y="609.5" width="20" height="21"/><rect x="2314.5" y="722.5" width="21" height="21"/><rect x="2775.5" y="595.5" width="20" height="21"/><rect x="2613.5" y="486.5" width="21" height="20"/><rect x="2340.5" y="904.5" width="21" height="20"/><rect x="2508.5" y="878.5" width="20" height="21"/><rect x="2374.5" y="498.5" width="20" height="21"/><rect x="2558.5" y="537.5" width="20" height="20"/><rect x="2504.5" y="824.5" width="21" height="20"/><rect x="2431.5" y="896.5" width="21" height="21"/><rect x="2519.5" y="904.5" width="20" height="20"/><rect x="2016.5" y="798.5" width="21" height="20"/><rect x="2511.5" y="611.5" width="21" height="21"/><rect x="2412.5" y="732.5" width="20" height="21"/><rect x="2252.5" y="576.5" width="20" height="21"/><rect x="2499.5" y="780.5" width="21" height="20"/><rect x="2494.5" y="1142.5" width="21" height="20"/><rect x="2635.5" y="334.5" width="21" height="20"/><rect x="2083.5" y="837.5" width="21" height="20"/><rect x="2270.5" y="664.5" width="20" height="20"/><rect x="1781.5" y="642.5" width="20" height="21"/><rect x="2433.5" y="879.5" width="21" height="20"/><rect x="2681.5" y="562.5" width="21" height="21"/><rect x="2562.5" y="937.5" width="21" height="21"/><rect x="2533.5" y="875.5" width="21" height="21"/><rect x="2047.5" y="612.5" width="21" height="20"/><rect x="2350.5" y="396.5" width="21" height="20"/><rect x="2392.5" y="872.5" width="21" height="20"/><rect x="2087.5" y="671.5" width="20" height="21"/><rect x="2584.5" y="674.5" width="21" height="20"/><rect x="2584.5" y="923.5" width="20" height="20"/><rect x="2165.5" y="362.5" width="20" height="21"/><rect x="2634.5" y="502.5" width="20" height="20"/><rect x="2519.5" y="755.5" width="21" height="21"/><rect x="2518.5" y="834.5" width="20" height="21"/><rect x="2397.5" y="864.5" width="20" height="20"/><rect x="2336.5" y="719.5" width="21" height="21"/><rect x="2453.5" y="863.5" width="20" height="21"/><rect x="2475.5" y="509.5" width="20" height="21"/><rect x="2316.5" y="919.5" width="20" height="20"/><rect x="2348.5" y="548.5" width="21" height="21"/><rect x="2685.5" y="490.5" width="20" height="21"/><rect x="2495.5" y="542.5" width="21" height="20"/><rect x="2573.5" y="1014.5" width="21" height="20"/><rect x="2689.5" y="592.5" width="21" height="21"/><rect x="2359.5" y="891.5" width="21" height="20"/><rect x="2307.5" y="1064.5" width="20" height="21"/><rect x="2428.5" y="934.5" width="20" height="20"/><rect x="2506.5" y="648.5" width="21" height="20"/><rect x="2556.5" y="723.5" width="21" height="20"/><rect x="2211.5" y="867.5" width="21" height="20"/><rect x="2257.5" y="968.5" width="20" height="21"/><rect x="2250.5" y="434.5" width="21" height="20"/><rect x="2868.5" y="715.5" width="21" height="20"/><rect x="2282.5" y="767.5" width="21" height="21"/><rect x="2331.5" y="836.5" width="20" height="21"/><rect x="2373.5" y="730.5" width="21" height="21"/><rect x="2160.5" y="709.5" width="21" height="20"/><rect x="2332.5" y="796.5" width="21" height="20"/><rect x="2488.5" y="753.5" width="20" height="21"/><rect x="2322.5" y="801.5" width="20" height="20"/><rect x="2280.5" y="293.5" width="20" height="20"/><rect x="2230.5" y="809.5" width="21" height="20"/><rect x="2170.5" y="844.5" width="21" height="20"/><rect x="2792.5" y="782.5" width="21" height="20"/><rect x="2745.5" y="659.5" width="20" height="21"/><rect x="2340.5" y="358.5" width="21" height="20"/><rect x="2330.5" y="756.5" width="20" height="21"/><rect x="2285.5" y="1186.5" width="20" height="20"/><rect x="2322.5" y="552.5" width="21" height="21"/><rect x="2634.5" y="380.5" width="21" height="21"/><rect x="2332.5" y="797.5" width="21" height="20"/><rect x="2211.5" y="273.5" width="20" height="20"/><rect x="2345.5" y="654.5" width="21" height="21"/><rect x="2493.5" y="839.5" width="20" height="21"/><rect x="2251.5" y="913.5" width="21" height="21"/><rect x="2384.5" y="794.5" width="20" height="21"/><rect x="2287.5" y="654.5" width="21" height="20"/><rect x="2204.5" y="855.5" width="20" height="21"/><rect x="2460.5" y="876.5" width="21" height="20"/><rect x="2459.5" y="593.5" width="21" height="21"/><rect x="2266.5" y="922.5" width="21" height="21"/><rect x="2189.5" y="470.5" width="20" height="21"/><rect x="2261.5" y="340.5" width="21" height="20"/><rect x="2561.5" y="901.5" width="21" height="20"/><rect x="2682.5" y="293.5" width="20" height="20"/><rect x="2264.5" y="742.5" width="21" height="21"/><rect x="2361.5" y="936.5" width="20" height="21"/><rect x="1924.5" y="806.5" width="20" height="20"/><rect x="2347.5" y="554.5" width="20" height="21"/><rect x="2290.5" y="676.5" width="20" height="21"/><rect x="2522.5" y="555.5" width="20" height="20"/><rect x="1999.5" y="529.5" width="21" height="21"/><rect x="2100.5" y="887.5" width="20" height="20"/><rect x="2574.5" y="663.5" width="20" height="21"/><rect x="2348.5" y="477.5" width="20" height="21"/><rect x="2665.5" y="291.5" width="20" height="20"/><rect x="2426.5" y="771.5" width="20" height="20"/><rect x="2616.5" y="970.5" width="21" height="20"/><rect x="2229.5" y="726.5" width="21" height="20"/><rect x="2659.5" y="882.5" width="21" height="20"/><rect x="2407.5" y="339.5" width="20" height="21"/><rect x="2471.5" y="982.5" width="21" height="20"/><rect x="2438.5" y="735.5" width="21" height="20"/><rect x="2892.5" y="553.5" width="21" height="20"/><rect x="2411.5" y="541.5" width="21" height="20"/><rect x="2011.5" y="572.5" width="21" height="20"/><rect x="2463.5" y="901.5" width="21" height="21"/><rect x="1902.5" y="827.5" width="20" height="21"/><rect x="2383.5" y="700.5" width="21" height="20"/><rect x="2352.5" y="734.5" width="20" height="21"/><rect x="2506.5" y="772.5" width="21" height="20"/><rect x="2405.5" y="801.5" width="21" height="21"/><rect x="2516.5" y="632.5" width="21" height="21"/><rect x="2396.5" y="377.5" width="20" height="21"/><rect x="2855.5" y="325.5" width="21" height="20"/><rect x="2203.5" y="1181.5" width="21" height="21"/><rect x="2459.5" y="749.5" width="20" height="21"/><rect x="2668.5" y="771.5" width="21" height="21"/><rect x="2550.5" y="279.5" width="21" height="20"/><rect x="2179.5" y="491.5" width="20" height="20"/><rect x="2278.5" y="962.5" width="21" height="20"/><rect x="2472.5" y="566.5" width="20" height="20"/><rect x="2597.5" y="482.5" width="20" height="20"/><rect x="2440.5" y="756.5" width="20" height="20"/><rect x="2241.5" y="645.5" width="21" height="20"/><rect x="2424.5" y="440.5" width="21" height="21"/><rect x="2573.5" y="509.5" width="20" height="21"/><rect x="2282.5" y="790.5" width="20" height="20"/><rect x="2355.5" y="964.5" width="21" height="21"/><rect x="2217.5" y="783.5" width="20" height="21"/><rect x="2457.5" y="453.5" width="21" height="21"/><rect x="2552.5" y="938.5" width="21" height="20"/><rect x="2662.5" y="484.5" width="21" height="21"/><rect x="2582.5" y="269.5" width="20" height="20"/><rect x="2733.5" y="235.5" width="21" height="21"/><rect x="2348.5" y="725.5" width="21" height="21"/><rect x="2478.5" y="583.5" width="20" height="20"/><rect x="2365.5" y="470.5" width="21" height="20"/><rect x="2360.5" y="670.5" width="21" height="21"/><rect x="2455.5" y="685.5" width="20" height="20"/><rect x="2370.5" y="1055.5" width="21" height="21"/><rect x="2620.5" y="468.5" width="20" height="21"/><rect x="2358.5" y="741.5" width="20" height="20"/><rect x="2373.5" y="625.5" width="21" height="21"/><rect x="2506.5" y="820.5" width="20" height="21"/><rect x="2373.5" y="902.5" width="20" height="20"/><rect x="2351.5" y="1059.5" width="21" height="21"/><rect x="2181.5" y="657.5" width="20" height="20"/><rect x="2313.5" y="511.5" width="21" height="20"/><rect x="2048.5" y="584.5" width="21" height="20"/><rect x="2762.5" y="848.5" width="21" height="20"/><rect x="2502.5" y="653.5" width="20" height="21"/><rect x="2306.5" y="869.5" width="21" height="21"/><rect x="2369.5" y="856.5" width="21" height="21"/><rect x="2535.5" y="942.5" width="20" height="21"/><rect x="2592.5" y="914.5" width="20" height="20"/><rect x="2542.5" y="427.5" width="21" height="20"/><rect x="2498.5" y="111.5" width="21" height="20"/><rect x="2288.5" y="685.5" width="21" height="20"/><rect x="2529.5" y="505.5" width="20" height="20"/><rect x="2490.5" y="637.5" width="21" height="20"/><rect x="1908.5" y="858.5" width="21" height="20"/><rect x="2188.5" y="900.5" width="20" height="21"/><rect x="2348.5" y="336.5" width="21" height="20"/><rect x="2458.5" y="294.5" width="20" height="21"/><rect x="2267.5" y="847.5" width="20" height="21"/><rect x="2243.5" y="534.5" width="20" height="21"/><rect x="2308.5" y="1045.5" width="20" height="20"/><rect x="2528.5" y="703.5" width="20" height="20"/><rect x="2384.5" y="565.5" width="20" height="20"/><rect x="2385.5" y="973.5" width="21" height="20"/><rect x="2299.5" y="593.5" width="21" height="20"/><rect x="2254.5" y="508.5" width="20" height="21"/><rect x="2218.5" y="649.5" width="20" height="20"/><rect x="2440.5" y="1024.5" width="20" height="21"/><rect x="2300.5" y="676.5" width="20" height="21"/><rect x="2366.5" y="966.5" width="21" height="21"/><rect x="2562.5" y="421.5" width="20" height="21"/><rect x="2376.5" y="555.5" width="20" height="20"/><rect x="2379.5" y="690.5" width="21" height="20"/></g>
<g stroke="#b0b0b0" stroke-opacity=".3" stroke-width="2.0"><path d="M1728 101.3V1216.4"/><path d="M1995 101.3V1216.4"/><path d="M2262 101.3V1216.4"/><path d="M2529 101.3V1216.4"/><path d="M2797 101.3V1216.4"/><path d="M1657.45 1205H3033.9"/><path d="M1657.45 997H3033.9"/><path d="M1657.45 788H3033.9"/><path d="M1657.45 579H3033.9"/><path d="M1657.45 370H3033.9"/><path d="M1657.45 161H3033.9"/></g>
<g fill="none" stroke="#000" stroke-width="5.3" stroke-dasharray="19.72 8.53" stroke-linejoin="round" stroke-dashoffset="-1"><path d="M1998.2 1031.1 1991.5 1029 1978.2 1029 1971.5 1026.9 1964.8 1026.9 1931.4 1016.5 1931.4 1014.4 1918 1010.2 1918 1008.1 1911.4 1006 1911.4 1003.9 1904.7 1001.9 1904.7 999.8 1898 997.7 1898 995.6 1891.3 993.5 1891.3 991.4 1884.6 989.3 1884.6 985.1 1877.9 983.1 1877.9 978.9 1871.3 976.8 1871.3 972.6 1864.6 970.5 1864.6 964.3 1857.9 962.2 1857.9 958 1851.2 955.9 1851.2 947.5 1844.5 945.4 1844.5 937.1 1837.9 935 1837.9 926.6 1831.2 924.6 1831.2 912 1824.5 909.9 1824.5 897.4 1817.8 895.3 1817.8 876.5 1811.1 874.4 1811.1 845.2 1804.4 843.1 1804.4 753.2 1811.1 751.2 1811.1 719.8 1817.8 717.7 1817.8 696.8 1824.5 694.7 1824.5 678 1831.2 675.9 1831.2 663.4 1837.9 661.3 1837.9 648.8 1844.5 646.7 1844.5 636.2 1851.2 634.2 1851.2 625.8 1857.9 623.7 1857.9 613.3 1864.6 611.2 1864.6 604.9 1871.3 602.8 1871.3 594.5 1877.9 592.4 1877.9 586.1 1884.6 584 1884.6 577.7 1891.3 575.7 1891.3 571.5 1898 569.4 1898 563.1 1904.7 561 1904.7 556.9 1911.4 554.8 1911.4 550.6 1918 548.5 1918 544.3 1924.7 542.2 1924.7 540.1 1931.4 538 1931.4 533.9 1938.1 531.8 1938.1 529.7 1944.8 527.6 1944.8 523.4 1951.4 521.3 1951.4 519.2 1958.1 517.2 1958.1 515.1 1964.8 513 1964.8 510.9 1978.2 506.7 1978.2 504.6 1984.9 502.5 1984.9 500.4 2004.9 494.2 2004.9 492.1 2038.3 481.6 2045 481.6 2051.7 479.6 2058.4 479.6 2065 477.5 2105.1 477.5 2111.8 479.6 2118.5 479.6 2125.2 481.6 2131.9 481.6 2158.6 490 2158.6 492.1 2171.9 496.3 2171.9 498.4 2185.3 502.5 2185.3 504.6 2192 506.7 2192 508.8 2198.7 510.9 2198.7 515.1 2205.4 517.2 2205.4 519.2 2212 521.3 2212 525.5 2218.7 527.6 2218.7 531.8 2225.4 533.9 2225.4 540.1 2232.1 542.2 2232.1 546.4 2238.8 548.5 2238.8 554.8 2245.4 556.9 2245.4 565.2 2252.1 567.3 2252.1 575.7 2258.8 577.7 2258.8 588.2 2265.5 590.3 2265.5 602.8 2272.2 604.9 2272.2 621.6 2278.9 623.7 2278.9 646.7 2285.5 648.8 2285.5 770 2278.9 772 2278.9 797.1 2272.2 799.2 2272.2 818 2265.5 820.1 2265.5 836.8 2258.8 838.9 2258.8 851.4 2252.1 853.5 2252.1 864 2245.4 866.1 2245.4 876.5 2238.8 878.6 2238.8 887 2232.1 889 2232.1 897.4 2225.4 899.5 2225.4 907.8 2218.7 909.9 2218.7 916.2 2212 918.3 2212 924.6 2205.4 926.6 2205.4 932.9 2198.7 935 2198.7 939.2 2192 941.3 2192 945.4 2185.3 947.5 2185.3 953.8 2178.6 955.9 2178.6 958 2171.9 960.1 2171.9 964.3 2165.3 966.3 2165.3 970.5 2158.6 972.6 2158.6 974.7 2151.9 976.8 2151.9 981 2145.2 983.1 2145.2 985.1 2138.5 987.2 2138.5 989.3 2131.9 991.4 2131.9 993.5 2125.2 995.6 2125.2 997.7 2118.5 999.8 2118.5 1001.9 2105.1 1006 2105.1 1008.1 2091.8 1012.3 2091.8 1014.4 2058.4 1024.8 2051.7 1024.8 2045 1026.9 2038.3 1026.9 2031.6 1029 2018.3 1029 2011.6 1031.1 2004.9 1031.1Z"/><path d="M1998.2 1031.4 1991.5 1029.3 1978.2 1029.3 1971.5 1027.2 1964.8 1027.2 1930.4 1016.5 1930.4 1014.4 1917 1010.2 1917 1008.1 1910.4 1006 1910.4 1003.9 1903.7 1001.9 1903.7 999.8 1897 997.7 1897 995.6 1890.3 993.5 1890.3 991.4 1883.6 989.3 1883.6 985.1 1876.9 983.1 1876.9 978.9 1870.3 976.8 1870.3 972.6 1863.6 970.5 1863.6 964.3 1856.9 962.2 1856.9 958 1850.2 955.9 1850.2 947.5 1843.5 945.4 1843.5 937.1 1836.9 935 1836.9 926.6 1830.2 924.6 1830.2 912 1823.5 909.9 1823.5 897.4 1816.8 895.3 1816.8 876.5 1810.1 874.4 1810.1 845.2 1803.4 843.1 1803.4 753.2 1810.1 751.2 1810.1 719.8 1816.8 717.7 1816.8 696.8 1823.5 694.7 1823.5 678 1830.2 675.9 1830.2 663.4 1836.9 661.3 1836.9 648.8 1843.5 646.7 1843.5 636.2 1850.2 634.2 1850.2 625.8 1856.9 623.7 1856.9 613.3 1863.6 611.2 1863.6 604.9 1870.3 602.8 1870.3 594.5 1876.9 592.4 1876.9 586.1 1883.6 584 1883.6 577.7 1890.3 575.7 1890.3 571.5 1897 569.4 1897 563.1 1903.7 561 1903.7 556.9 1910.4 554.8 1910.4 550.6 1917 548.5 1917 544.3 1923.7 542.2 1923.7 540.1 1930.4 538 1930.4 533.9 1937.1 531.8 1937.1 529.7 1943.8 527.6 1943.8 523.4 1950.4 521.3 1950.4 519.2 1957.1 517.2 1957.1 515.1 1963.8 513 1963.8 510.9 1977.2 506.7 1977.2 504.6 1983.9 502.5 1983.9 500.4 2003.9 494.2 2003.9 492.1 2038.3 481.3 2045 481.3 2051.7 479.2 2058.4 479.2 2065 477.1 2105.1 477.1 2111.8 479.2 2118.5 479.2 2125.2 481.3 2131.9 481.3 2159.6 490 2159.6 492.1 2173 496.3 2173 498.4 2186.3 502.5 2186.3 504.6 2193 506.7 2193 508.8 2199.7 510.9 2199.7 515.1 2206.4 517.2 2206.4 519.2 2213 521.3 2213 525.5 2219.7 527.6 2219.7 531.8 2226.4 533.9 2226.4 540.1 2233.1 542.2 2233.1 546.4 2239.8 548.5 2239.8 554.8 2246.5 556.9 2246.5 565.2 2253.1 567.3 2253.1 575.7 2259.8 577.7 2259.8 588.2 2266.5 590.3 2266.5 602.8 2273.2 604.9 2273.2 621.6 2279.9 623.7 2279.9 646.7 2286.5 648.8 2286.5 770 2279.9 772 2279.9 797.1 2273.2 799.2 2273.2 818 2266.5 820.1 2266.5 836.8 2259.8 838.9 2259.8 851.4 2253.1 853.5 2253.1 864 2246.5 866.1 2246.5 876.5 2239.8 878.6 2239.8 887 2233.1 889 2233.1 897.4 2226.4 899.5 2226.4 907.8 2219.7 909.9 2219.7 916.2 2213 918.3 2213 924.6 2206.4 926.6 2206.4 932.9 2199.7 935 2199.7 939.2 2193 941.3 2193 945.4 2186.3 947.5 2186.3 953.8 2179.6 955.9 2179.6 958 2173 960.1 2173 964.3 2166.3 966.3 2166.3 970.5 2159.6 972.6 2159.6 974.7 2152.9 976.8 2152.9 981 2146.2 983.1 2146.2 985.1 2139.5 987.2 2139.5 989.3 2132.9 991.4 2132.9 993.5 2126.2 995.6 2126.2 997.7 2119.5 999.8 2119.5 1001.9 2106.1 1006 2106.1 1008.1 2092.8 1012.3 2092.8 1014.4 2058.4 1025.2 2051.7 1025.2 2045 1027.2 2038.3 1027.2 2031.6 1029.3 2018.3 1029.3 2011.6 1031.4 2004.9 1031.4Z"/><path d="M1998.2 1031.7 1991.5 1029.6 1978.2 1029.6 1971.5 1027.6 1964.8 1027.6 1929.4 1016.5 1929.4 1014.4 1916 1010.2 1916 1008.1 1909.4 1006 1909.4 1003.9 1902.7 1001.9 1902.7 999.8 1896 997.7 1896 995.6 1889.3 993.5 1889.3 991.4 1882.6 989.3 1882.6 985.1 1875.9 983.1 1875.9 978.9 1869.3 976.8 1869.3 972.6 1862.6 970.5 1862.6 964.3 1855.9 962.2 1855.9 958 1849.2 955.9 1849.2 947.5 1842.5 945.4 1842.5 937.1 1835.9 935 1835.9 926.6 1829.2 924.6 1829.2 912 1822.5 909.9 1822.5 897.4 1815.8 895.3 1815.8 876.5 1809.1 874.4 1809.1 845.2 1802.4 843.1 1802.4 753.2 1809.1 751.2 1809.1 719.8 1815.8 717.7 1815.8 696.8 1822.5 694.7 1822.5 678 1829.2 675.9 1829.2 663.4 1835.9 661.3 1835.9 648.8 1842.5 646.7 1842.5 636.2 1849.2 634.2 1849.2 625.8 1855.9 623.7 1855.9 613.3 1862.6 611.2 1862.6 604.9 1869.3 602.8 1869.3 594.5 1875.9 592.4 1875.9 586.1 1882.6 584 1882.6 577.7 1889.3 575.7 1889.3 571.5 1896 569.4 1896 563.1 1902.7 561 1902.7 556.9 1909.4 554.8 1909.4 550.6 1916 548.5 1916 544.3 1922.7 542.2 1922.7 540.1 1929.4 538 1929.4 533.9 1936.1 531.8 1936.1 529.7 1942.8 527.6 1942.8 523.4 1949.4 521.3 1949.4 519.2 1956.1 517.2 1956.1 515.1 1962.8 513 1962.8 510.9 1976.2 506.7 1976.2 504.6 1982.9 502.5 1982.9 500.4 2002.9 494.2 2002.9 492.1 2038.3 481 2045 481 2051.7 478.9 2058.4 478.9 2065 476.8 2105.1 476.8 2111.8 478.9 2118.5 478.9 2125.2 481 2131.9 481 2160.6 490 2160.6 492.1 2174 496.3 2174 498.4 2187.3 502.5 2187.3 504.6 2194 506.7 2194 508.8 2200.7 510.9 2200.7 515.1 2207.4 517.2 2207.4 519.2 2214 521.3 2214 525.5 2220.7 527.6 2220.7 531.8 2227.4 533.9 2227.4 540.1 2234.1 542.2 2234.1 546.4 2240.8 548.5 2240.8 554.8 2247.5 556.9 2247.5 565.2 2254.1 567.3 2254.1 575.7 2260.8 577.7 2260.8 588.2 2267.5 590.3 2267.5 602.8 2274.2 604.9 2274.2 621.6 2280.9 623.7 2280.9 646.7 2287.5 648.8 2287.5 770 2280.9 772 2280.9 797.1 2274.2 799.2 2274.2 818 2267.5 820.1 2267.5 836.8 2260.8 838.9 2260.8 851.4 2254.1 853.5 2254.1 864 2247.5 866.1 2247.5 876.5 2240.8 878.6 2240.8 887 2234.1 889 2234.1 897.4 2227.4 899.5 2227.4 907.8 2220.7 909.9 2220.7 916.2 2214 918.3 2214 924.6 2207.4 926.6 2207.4 932.9 2200.7 935 2200.7 939.2 2194 941.3 2194 945.4 2187.3 947.5 2187.3 953.8 2180.6 955.9 2180.6 958 2174 960.1 2174 964.3 2167.3 966.3 2167.3 970.5 2160.6 972.6 2160.6 974.7 2153.9 976.8 2153.9 981 2147.2 983.1 2147.2 985.1 2140.5 987.2 2140.5 989.3 2133.9 991.4 2133.9 993.5 2127.2 995.6 2127.2 997.7 2120.5 999.8 2120.5 1001.9 2107.1 1006 2107.1 1008.1 2093.8 1012.3 2093.8 1014.4 2058.4 1025.5 2051.7 1025.5 2045 1027.6 2038.3 1027.6 2031.6 1029.6 2018.3 1029.6 2011.6 1031.7 2004.9 1031.7Z"/><path d="M1998.2 1032 1991.5 1030 1978.2 1030 1971.5 1027.9 1964.8 1027.9 1928.4 1016.5 1928.4 1014.4 1915 1010.2 1915 1008.1 1908.4 1006 1908.4 1003.9 1901.7 1001.9 1901.7 999.8 1895 997.7 1895 995.6 1888.3 993.5 1888.3 991.4 1881.6 989.3 1881.6 985.1 1874.9 983.1 1874.9 978.9 1868.3 976.8 1868.3 972.6 1861.6 970.5 1861.6 964.3 1854.9 962.2 1854.9 958 1848.2 955.9 1848.2 947.5 1841.5 945.4 1841.5 937.1 1834.9 935 1834.9 926.6 1828.2 924.6 1828.2 912 1821.5 909.9 1821.5 897.4 1814.8 895.3 1814.8 876.5 1808.1 874.4 1808.1 845.2 1801.4 843.1 1801.4 753.2 1808.1 751.2 1808.1 719.8 1814.8 717.7 1814.8 696.8 1821.5 694.7 1821.5 678 1828.2 675.9 1828.2 663.4 1834.9 661.3 1834.9 648.8 1841.5 646.7 1841.5 636.2 1848.2 634.2 1848.2 625.8 1854.9 623.7 1854.9 613.3 1861.6 611.2 1861.6 604.9 1868.3 602.8 1868.3 594.5 1874.9 592.4 1874.9 586.1 1881.6 584 1881.6 577.7 1888.3 575.7 1888.3 571.5 1895 569.4 1895 563.1 1901.7 561 1901.7 556.9 1908.4 554.8 1908.4 550.6 1915 548.5 1915 544.3 1921.7 542.2 1921.7 540.1 1928.4 538 1928.4 533.9 1935.1 531.8 1935.1 529.7 1941.8 527.6 1941.8 523.4 1948.4 521.3 1948.4 519.2 1955.1 517.2 1955.1 515.1 1961.8 513 1961.8 510.9 1975.2 506.7 1975.2 504.6 1981.9 502.5 1981.9 500.4 2001.9 494.2 2001.9 492.1 2038.3 480.7 2045 480.7 2051.7 478.6 2058.4 478.6 2065 476.5 2105.1 476.5 2111.8 478.6 2118.5 478.6 2125.2 480.7 2131.9 480.7 2161.6 490 2161.6 492.1 2175 496.3 2175 498.4 2188.3 502.5 2188.3 504.6 2195 506.7 2195 508.8 2201.7 510.9 2201.7 515.1 2208.4 517.2 2208.4 519.2 2215 521.3 2215 525.5 2221.7 527.6 2221.7 531.8 2228.4 533.9 2228.4 540.1 2235.1 542.2 2235.1 546.4 2241.8 548.5 2241.8 554.8 2248.5 556.9 2248.5 565.2 2255.1 567.3 2255.1 575.7 2261.8 577.7 2261.8 588.2 2268.5 590.3 2268.5 602.8 2275.2 604.9 2275.2 621.6 2281.9 623.7 2281.9 646.7 2288.5 648.8 2288.5 770 2281.9 772 2281.9 797.1 2275.2 799.2 2275.2 818 2268.5 820.1 2268.5 836.8 2261.8 838.9 2261.8 851.4 2255.1 853.5 2255.1 864 2248.5 866.1 2248.5 876.5 2241.8 878.6 2241.8 887 2235.1 889 2235.1 897.4 2228.4 899.5 2228.4 907.8 2221.7 909.9 2221.7 916.2 2215 918.3 2215 924.6 2208.4 926.6 2208.4 932.9 2201.7 935 2201.7 939.2 2195 941.3 2195 945.4 2188.3 947.5 2188.3 953.8 2181.6 955.9 2181.6 958 2175 960.1 2175 964.3 2168.3 966.3 2168.3 970.5 2161.6 972.6 2161.6 974.7 2154.9 976.8 2154.9 981 2148.2 983.1 2148.2 985.1 2141.5 987.2 2141.5 989.3 2134.9 991.4 2134.9 993.5 2128.2 995.6 2128.2 997.7 2121.5 999.8 2121.5 1001.9 2108.1 1006 2108.1 1008.1 2094.8 1012.3 2094.8 1014.4 2058.4 1025.8 2051.7 1025.8 2045 1027.9 2038.3 1027.9 2031.6 1030 2018.3 1030 2011.6 1032 2004.9 1032Z"/><path d="M1998.2 1032.4 1991.5 1030.3 1978.2 1030.3 1971.5 1028.2 1964.8 1028.2 1927.4 1016.5 1927.4 1014.4 1914 1010.2 1914 1008.1 1907.3 1006 1907.3 1003.9 1900.7 1001.9 1900.7 999.8 1894 997.7 1894 995.6 1887.3 993.5 1887.3 991.4 1880.6 989.3 1880.6 985.1 1873.9 983.1 1873.9 978.9 1867.3 976.8 1867.3 972.6 1860.6 970.5 1860.6 964.3 1853.9 962.2 1853.9 958 1847.2 955.9 1847.2 947.5 1840.5 945.4 1840.5 937.1 1833.8 935 1833.8 926.6 1827.2 924.6 1827.2 912 1820.5 909.9 1820.5 897.4 1813.8 895.3 1813.8 876.5 1807.1 874.4 1807.1 845.2 1800.4 843.1 1800.4 753.2 1807.1 751.2 1807.1 719.8 1813.8 717.7 1813.8 696.8 1820.5 694.7 1820.5 678 1827.2 675.9 1827.2 663.4 1833.8 661.3 1833.8 648.8 1840.5 646.7 1840.5 636.2 1847.2 634.2 1847.2 625.8 1853.9 623.7 1853.9 613.3 1860.6 611.2 1860.6 604.9 1867.3 602.8 1867.3 594.5 1873.9 592.4 1873.9 586.1 1880.6 584 1880.6 577.7 1887.3 575.7 1887.3 571.5 1894 569.4 1894 563.1 1900.7 561 1900.7 556.9 1907.3 554.8 1907.3 550.6 1914 548.5 1914 544.3 1920.7 542.2 1920.7 540.1 1927.4 538 1927.4 533.9 1934.1 531.8 1934.1 529.7 1940.8 527.6 1940.8 523.4 1947.4 521.3 1947.4 519.2 1954.1 517.2 1954.1 515.1 1960.8 513 1960.8 510.9 1974.2 506.7 1974.2 504.6 1980.8 502.5 1980.8 500.4 2000.9 494.2 2000.9 492.1 2038.3 480.4 2045 480.4 2051.7 478.3 2058.4 478.3 2065 476.2 2105.1 476.2 2111.8 478.3 2118.5 478.3 2125.2 480.4 2131.9 480.4 2162.6 490 2162.6 492.1 2176 496.3 2176 498.4 2189.3 502.5 2189.3 504.6 2196 506.7 2196 508.8 2202.7 510.9 2202.7 515.1 2209.4 517.2 2209.4 519.2 2216 521.3 2216 525.5 2222.7 527.6 2222.7 531.8 2229.4 533.9 2229.4 540.1 2236.1 542.2 2236.1 546.4 2242.8 548.5 2242.8 554.8 2249.5 556.9 2249.5 565.2 2256.1 567.3 2256.1 575.7 2262.8 577.7 2262.8 588.2 2269.5 590.3 2269.5 602.8 2276.2 604.9 2276.2 621.6 2282.9 623.7 2282.9 646.7 2289.5 648.8 2289.5 770 2282.9 772 2282.9 797.1 2276.2 799.2 2276.2 818 2269.5 820.1 2269.5 836.8 2262.8 838.9 2262.8 851.4 2256.1 853.5 2256.1 864 2249.5 866.1 2249.5 876.5 2242.8 878.6 2242.8 887 2236.1 889 2236.1 897.4 2229.4 899.5 2229.4 907.8 2222.7 909.9 2222.7 916.2 2216 918.3 2216 924.6 2209.4 926.6 2209.4 932.9 2202.7 935 2202.7 939.2 2196 941.3 2196 945.4 2189.3 947.5 2189.3 953.8 2182.6 955.9 2182.6 958 2176 960.1 2176 964.3 2169.3 966.3 2169.3 970.5 2162.6 972.6 2162.6 974.7 2155.9 976.8 2155.9 981 2149.2 983.1 2149.2 985.1 2142.5 987.2 2142.5 989.3 2135.9 991.4 2135.9 993.5 2129.2 995.6 2129.2 997.7 2122.5 999.8 2122.5 1001.9 2109.1 1006 2109.1 1008.1 2095.8 1012.3 2095.8 1014.4 2058.4 1026.1 2051.7 1026.1 2045 1028.2 2038.3 1028.2 2031.6 1030.3 2018.3 1030.3 2011.6 1032.4 2004.9 1032.4Z"/><path d="M1998.2 1032.7 1991.5 1030.6 1978.2 1030.6 1971.5 1028.5 1964.8 1028.5 1926.4 1016.5 1926.4 1014.4 1913 1010.2 1913 1008.1 1906.3 1006 1906.3 1003.9 1899.7 1001.9 1899.7 999.8 1893 997.7 1893 995.6 1886.3 993.5 1886.3 991.4 1879.6 989.3 1879.6 985.1 1872.9 983.1 1872.9 978.9 1866.3 976.8 1866.3 972.6 1859.6 970.5 1859.6 964.3 1852.9 962.2 1852.9 958 1846.2 955.9 1846.2 947.5 1839.5 945.4 1839.5 937.1 1832.8 935 1832.8 926.6 1826.2 924.6 1826.2 912 1819.5 909.9 1819.5 897.4 1812.8 895.3 1812.8 876.5 1806.1 874.4 1806.1 845.2 1799.4 843.1 1799.4 753.2 1806.1 751.2 1806.1 719.8 1812.8 717.7 1812.8 696.8 1819.5 694.7 1819.5 678 1826.2 675.9 1826.2 663.4 1832.8 661.3 1832.8 648.8 1839.5 646.7 1839.5 636.2 1846.2 634.2 1846.2 625.8 1852.9 623.7 1852.9 613.3 1859.6 611.2 1859.6 604.9 1866.3 602.8 1866.3 594.5 1872.9 592.4 1872.9 586.1 1879.6 584 1879.6 577.7 1886.3 575.7 1886.3 571.5 1893 569.4 1893 563.1 1899.7 561 1899.7 556.9 1906.3 554.8 1906.3 550.6 1913 548.5 1913 544.3 1919.7 542.2 1919.7 540.1 1926.4 538 1926.4 533.9 1933.1 531.8 1933.1 529.7 1939.8 527.6 1939.8 523.4 1946.4 521.3 1946.4 519.2 1953.1 517.2 1953.1 515.1 1959.8 513 1959.8 510.9 1973.2 506.7 1973.2 504.6 1979.8 502.5 1979.8 500.4 1999.9 494.2 1999.9 492.1 2038.3 480.1 2045 480.1 2051.7 478 2058.4 478 2065 475.9 2105.1 475.9 2111.8 478 2118.5 478 2125.2 480.1 2131.9 480.1 2163.6 490 2163.6 492.1 2177 496.3 2177 498.4 2190.3 502.5 2190.3 504.6 2197 506.7 2197 508.8 2203.7 510.9 2203.7 515.1 2210.4 517.2 2210.4 519.2 2217.1 521.3 2217.1 525.5 2223.7 527.6 2223.7 531.8 2230.4 533.9 2230.4 540.1 2237.1 542.2 2237.1 546.4 2243.8 548.5 2243.8 554.8 2250.5 556.9 2250.5 565.2 2257.1 567.3 2257.1 575.7 2263.8 577.7 2263.8 588.2 2270.5 590.3 2270.5 602.8 2277.2 604.9 2277.2 621.6 2283.9 623.7 2283.9 646.7 2290.6 648.8 2290.6 770 2283.9 772 2283.9 797.1 2277.2 799.2 2277.2 818 2270.5 820.1 2270.5 836.8 2263.8 838.9 2263.8 851.4 2257.1 853.5 2257.1 864 2250.5 866.1 2250.5 876.5 2243.8 878.6 2243.8 887 2237.1 889 2237.1 897.4 2230.4 899.5 2230.4 907.8 2223.7 909.9 2223.7 916.2 2217.1 918.3 2217.1 924.6 2210.4 926.6 2210.4 932.9 2203.7 935 2203.7 939.2 2197 941.3 2197 945.4 2190.3 947.5 2190.3 953.8 2183.6 955.9 2183.6 958 2177 960.1 2177 964.3 2170.3 966.3 2170.3 970.5 2163.6 972.6 2163.6 974.7 2156.9 976.8 2156.9 981 2150.2 983.1 2150.2 985.1 2143.6 987.2 2143.6 989.3 2136.9 991.4 2136.9 993.5 2130.2 995.6 2130.2 997.7 2123.5 999.8 2123.5 1001.9 2110.1 1006 2110.1 1008.1 2096.8 1012.3 2096.8 1014.4 2058.4 1026.4 2051.7 1026.4 2045 1028.5 2038.3 1028.5 2031.6 1030.6 2018.3 1030.6 2011.6 1032.7 2004.9 1032.7Z"/><path d="M1998.2 1033 1991.5 1030.9 1978.2 1030.9 1971.5 1028.8 1964.8 1028.8 1925.4 1016.5 1925.4 1014.4 1912 1010.2 1912 1008.1 1905.3 1006 1905.3 1003.9 1898.7 1001.9 1898.7 999.8 1892 997.7 1892 995.6 1885.3 993.5 1885.3 991.4 1878.6 989.3 1878.6 985.1 1871.9 983.1 1871.9 978.9 1865.3 976.8 1865.3 972.6 1858.6 970.5 1858.6 964.3 1851.9 962.2 1851.9 958 1845.2 955.9 1845.2 947.5 1838.5 945.4 1838.5 937.1 1831.8 935 1831.8 926.6 1825.2 924.6 1825.2 912 1818.5 909.9 1818.5 897.4 1811.8 895.3 1811.8 876.5 1805.1 874.4 1805.1 845.2 1798.4 843.1 1798.4 753.2 1805.1 751.2 1805.1 719.8 1811.8 717.7 1811.8 696.8 1818.5 694.7 1818.5 678 1825.2 675.9 1825.2 663.4 1831.8 661.3 1831.8 648.8 1838.5 646.7 1838.5 636.2 1845.2 634.2 1845.2 625.8 1851.9 623.7 1851.9 613.3 1858.6 611.2 1858.6 604.9 1865.3 602.8 1865.3 594.5 1871.9 592.4 1871.9 586.1 1878.6 584 1878.6 577.7 1885.3 575.7 1885.3 571.5 1892 569.4 1892 563.1 1898.7 561 1898.7 556.9 1905.3 554.8 1905.3 550.6 1912 548.5 1912 544.3 1918.7 542.2 1918.7 540.1 1925.4 538 1925.4 533.9 1932.1 531.8 1932.1 529.7 1938.8 527.6 1938.8 523.4 1945.4 521.3 1945.4 519.2 1952.1 517.2 1952.1 515.1 1958.8 513 1958.8 510.9 1972.2 506.7 1972.2 504.6 1978.8 502.5 1978.8 500.4 1998.9 494.2 1998.9 492.1 2038.3 479.8 2045 479.8 2051.7 477.7 2058.4 477.7 2065 475.6 2105.1 475.6 2111.8 477.7 2118.5 477.7 2125.2 479.8 2131.9 479.8 2164.6 490 2164.6 492.1 2178 496.3 2178 498.4 2191.3 502.5 2191.3 504.6 2198 506.7 2198 508.8 2204.7 510.9 2204.7 515.1 2211.4 517.2 2211.4 519.2 2218.1 521.3 2218.1 525.5 2224.7 527.6 2224.7 531.8 2231.4 533.9 2231.4 540.1 2238.1 542.2 2238.1 546.4 2244.8 548.5 2244.8 554.8 2251.5 556.9 2251.5 565.2 2258.1 567.3 2258.1 575.7 2264.8 577.7 2264.8 588.2 2271.5 590.3 2271.5 602.8 2278.2 604.9 2278.2 621.6 2284.9 623.7 2284.9 646.7 2291.6 648.8 2291.6 770 2284.9 772 2284.9 797.1 2278.2 799.2 2278.2 818 2271.5 820.1 2271.5 836.8 2264.8 838.9 2264.8 851.4 2258.1 853.5 2258.1 864 2251.5 866.1 2251.5 876.5 2244.8 878.6 2244.8 887 2238.1 889 2238.1 897.4 2231.4 899.5 2231.4 907.8 2224.7 909.9 2224.7 916.2 2218.1 918.3 2218.1 924.6 2211.4 926.6 2211.4 932.9 2204.7 935 2204.7 939.2 2198 941.3 2198 945.4 2191.3 947.5 2191.3 953.8 2184.6 955.9 2184.6 958 2178 960.1 2178 964.3 2171.3 966.3 2171.3 970.5 2164.6 972.6 2164.6 974.7 2157.9 976.8 2157.9 981 2151.2 983.1 2151.2 985.1 2144.6 987.2 2144.6 989.3 2137.9 991.4 2137.9 993.5 2131.2 995.6 2131.2 997.7 2124.5 999.8 2124.5 1001.9 2111.1 1006 2111.1 1008.1 2097.8 1012.3 2097.8 1014.4 2058.4 1026.7 2051.7 1026.7 2045 1028.8 2038.3 1028.8 2031.6 1030.9 2018.3 1030.9 2011.6 1033 2004.9 1033Z"/></g>
</g>
<rect x="1657" y="101" width="1377" height="1115" fill="none" stroke="#000" stroke-width="2"/>
<g stroke="#000" stroke-width="2.0"><path d="M1728 1216v9.2"/><path d="M1995 1216v9.2"/><path d="M2262 1216v9.2"/><path d="M2529 1216v9.2"/><path d="M2797 1216v9.2"/><path d="M1657 1205h-9.2"/><path d="M1657 997h-9.2"/><path d="M1657 788h-9.2"/><path d="M1657 579h-9.2"/><path d="M1657 370h-9.2"/><path d="M1657 161h-9.2"/></g>
<g font-size="26.39" text-anchor="middle"><text x="1727.5" y="1255.6">0</text><text x="1994.8" y="1255.6">20</text><text x="2262" y="1255.6">40</text><text x="2529.3" y="1255.6">60</text><text x="2796.6" y="1255.6">80</text></g>
<g font-size="26.39" text-anchor="end"><text x="1638.6" y="1215.4">−20</text><text x="1638.6" y="1006.5">−10</text><text x="1638.6" y="797.7">0</text><text x="1638.6" y="588.9">10</text><text x="1638.6" y="380.1">20</text><text x="1638.6" y="171.3">30</text></g>
<text class="b" font-size="34.7" x="2230.63" y="45.8">QDA</text><text class="b" transform="translate(2312.44 47.04) scale(1.3563 1.1547)" font-size="34.7" x="0.00 15.35 30.70 46.05 61.40 76.75 92.10" y="0">▯▯▯▯▯▯▯</text><text class="b" font-size="34.7" x="2235.73" y="85.6">(</text><text class="b" transform="translate(2249.04 86.84) scale(1.3563 1.1547)" font-size="34.7" x="0.00 15.35 30.70 46.05 61.40 76.75 92.10 107.45 122.81" y="0">▯▯▯▯▯▯▯▯▯</text><text class="b" font-size="34.7" x="2438.97" y="85.6">)</text>
<text transform="translate(2276.38 1297.23) scale(1.3563 1.1547)" font-size="31.7" x="0.00 14.02 28.05 42.07 56.09 70.12 84.14" y="0">▯▯▯▯▯▯▯</text>
<g transform="translate(1565.25 747.44) rotate(-90)"><text transform="translate(-2.33 1.13) scale(1.3563 1.1547)" font-size="31.7" x="0.00 14.02 28.05 42.07 56.09 70.12 84.14 98.16 112.19" y="0">▯▯▯▯▯▯▯▯▯</text></g>
<rect x="2877.15" y="114.09" width="144.81" height="87.5" rx="5.3" fill="#fff" fill-opacity=".9" stroke="#ccc" stroke-opacity=".9" stroke-width="2.64"/><circle cx="2914.79" cy="138.50" r="10.2" fill="#00f" fill-opacity=".5" stroke="#00008b" stroke-opacity=".5" stroke-width="1.33"/><rect x="2904.54" y="167.25" width="20.5" height="20.5" fill="#f00" fill-opacity=".5" stroke="#8b0000" stroke-opacity=".5" stroke-width="1.33"/><text transform="translate(2960.96 147.14) scale(1.3563 1.1547)" font-size="26.39" x="0.00 11.67 23.35" y="0">▯▯▯</text><text transform="translate(2960.96 186.14) scale(1.3563 1.1547)" font-size="26.39" x="0.00 11.67" y="0">▯▯</text>
</svg>
</body></html>
